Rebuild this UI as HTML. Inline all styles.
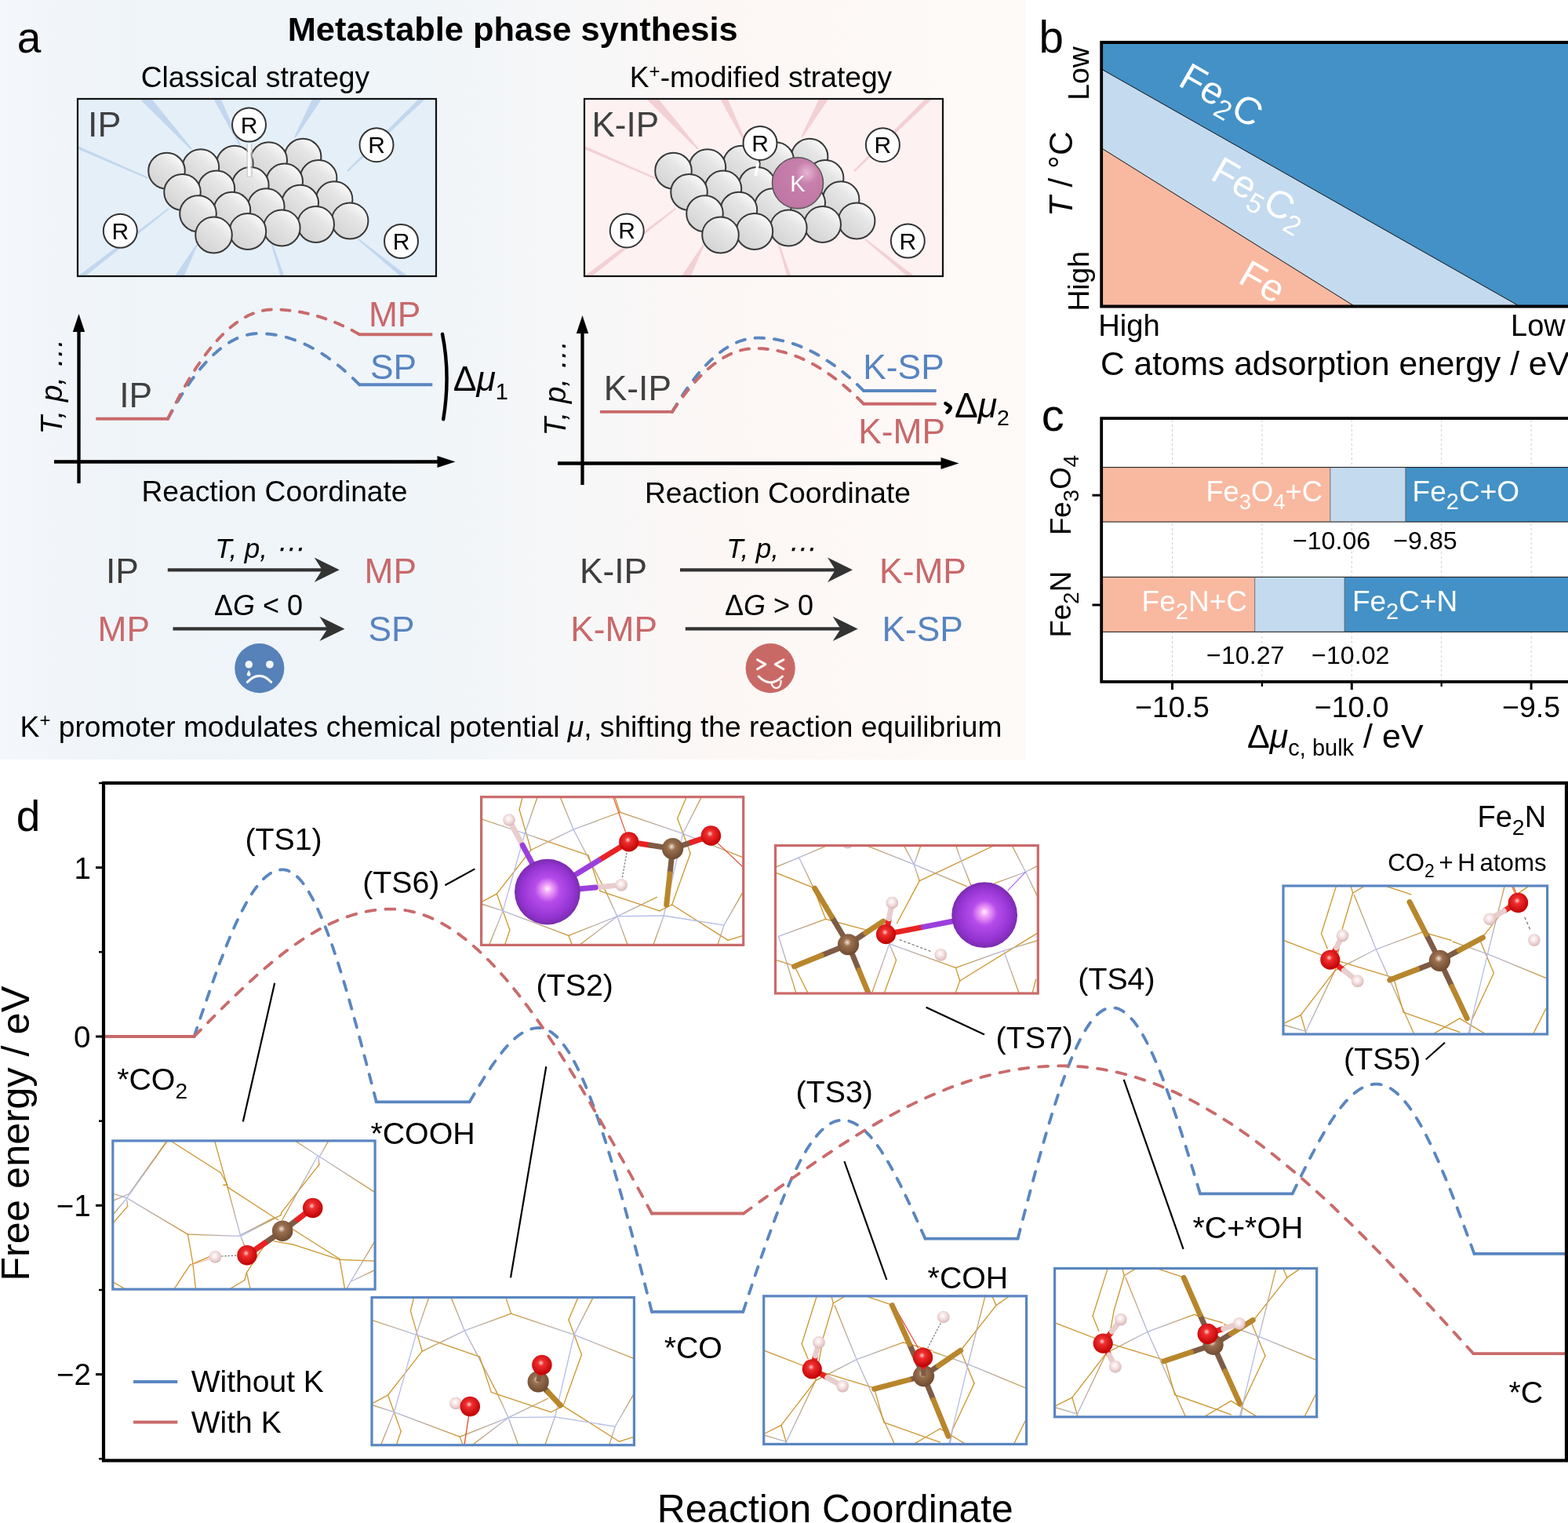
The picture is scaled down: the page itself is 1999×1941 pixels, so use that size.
<!DOCTYPE html>
<html><head><meta charset="utf-8"><title>Metastable phase synthesis</title>
<style>html,body{margin:0;padding:0;background:#fff;}svg{display:block;}</style></head>
<body>
<svg xmlns="http://www.w3.org/2000/svg" width="1999" height="1941" viewBox="0 0 1999 1941" font-family="'Liberation Sans', Arial, Helvetica, sans-serif">
<rect width="1999" height="1941" fill="#fff"/>

<defs>
<linearGradient id="bgA" x1="0" y1="0" x2="1" y2="0">
 <stop offset="0" stop-color="#f4f7fb"/>
 <stop offset="0.12" stop-color="#eff4f9"/>
 <stop offset="0.40" stop-color="#f0f5f9"/>
 <stop offset="0.55" stop-color="#f6f7f8"/>
 <stop offset="0.70" stop-color="#fcf7f5"/>
 <stop offset="1" stop-color="#fefaf8"/>
</linearGradient>
<linearGradient id="sph" x1="0.85" y1="0.1" x2="0.2" y2="0.9">
 <stop offset="0" stop-color="#fbfbfb"/>
 <stop offset="0.35" stop-color="#e6e6e6"/>
 <stop offset="1" stop-color="#d4d4d4"/>
</linearGradient>
<radialGradient id="ksph" cx="0.68" cy="0.3" r="0.75">
 <stop offset="0" stop-color="#e6b5d3"/>
 <stop offset="0.3" stop-color="#c77fab"/>
 <stop offset="1" stop-color="#bf76a5"/>
</radialGradient>
<radialGradient id="gO" cx="0.45" cy="0.4" r="0.6">
 <stop offset="0" stop-color="#ffd0d0"/>
 <stop offset="0.25" stop-color="#f03030"/>
 <stop offset="1" stop-color="#c00000"/>
</radialGradient>
<radialGradient id="gC" cx="0.45" cy="0.4" r="0.6">
 <stop offset="0" stop-color="#f4e6d8"/>
 <stop offset="0.3" stop-color="#9a7050"/>
 <stop offset="1" stop-color="#6e4a30"/>
</radialGradient>
<radialGradient id="gH" cx="0.45" cy="0.4" r="0.6">
 <stop offset="0" stop-color="#ffffff"/>
 <stop offset="0.5" stop-color="#f3dede"/>
 <stop offset="1" stop-color="#d8b8b8"/>
</radialGradient>
<radialGradient id="gK" cx="0.5" cy="0.5" r="0.5" fx="0.5" fy="0.45">
 <stop offset="0" stop-color="#fff2ff"/>
 <stop offset="0.12" stop-color="#f4a8fa"/>
 <stop offset="0.38" stop-color="#b64cea"/>
 <stop offset="0.8" stop-color="#9434d2"/>
 <stop offset="1" stop-color="#7a2cae"/>
</radialGradient>
<clipPath id="clipIP"><rect x="99" y="126" width="457" height="226"/></clipPath>
<clipPath id="clipKIP"><rect x="745" y="126" width="457" height="226"/></clipPath>
<clipPath id="clipB"><rect x="1404" y="54" width="600" height="337"/></clipPath>
</defs>

<rect x="0" y="0" width="1307.5" height="968" fill="url(#bgA)"/>
<text x="21.7" y="66.5" font-size="55" fill="#000">a</text>
<text x="366.7" y="51.9" font-size="43.4" fill="#000" font-weight="bold">Metastable phase synthesis</text>
<text x="179.7" y="111.3" font-size="37.2" fill="#000">Classical strategy</text>
<text x="802.8" y="111.3" font-size="37.2">K<tspan dy="-12" font-size="24">+</tspan><tspan dy="12">-modified strategy</tspan></text>
<g>
<rect x="99" y="126" width="457" height="226" fill="#e5eff8"/>
<g clip-path="url(#clipIP)" fill="#c2d7ef">
<polygon points="178.2,126.3 187.1,118.3 244.7,189.3 243.3,190.7"/>
<polygon points="270.8,123.5 278.8,119.5 306.9,184.6 305.1,185.4"/>
<polygon points="401.7,118.9 411.3,124.4 376.9,175.5 375.1,174.5"/>
<polygon points="539.5,120.4 543.7,124.7 443.7,218.7 442.3,217.3"/>
<polygon points="93.6,187.8 95.2,184.2 189.4,226.1 188.6,227.9"/>
<polygon points="101.9,357.4 98.2,352.7 214.4,265.2 215.6,266.8"/>
<polygon points="231.4,359.0 221.8,353.7 250.1,311.5 251.9,312.5"/>
<polygon points="363.9,356.0 359.2,357.5 346.0,312.3 348.0,311.7"/>
<polygon points="520.8,352.8 517.0,357.5 456.4,305.8 457.6,304.2"/>
</g>
<rect x="99" y="126" width="457" height="226" fill="none" stroke="#111" stroke-width="2.2"/>
<ellipse cx="386.1" cy="199.8" rx="23.3" ry="23" fill="url(#sph)" stroke="#383838" stroke-width="2"/>
<ellipse cx="342.7" cy="204.3" rx="23.3" ry="23" fill="url(#sph)" stroke="#383838" stroke-width="2"/>
<ellipse cx="299.3" cy="208.8" rx="23.3" ry="23" fill="url(#sph)" stroke="#383838" stroke-width="2"/>
<ellipse cx="255.9" cy="213.3" rx="23.3" ry="23" fill="url(#sph)" stroke="#383838" stroke-width="2"/>
<ellipse cx="212.5" cy="217.8" rx="23.3" ry="23" fill="url(#sph)" stroke="#383838" stroke-width="2"/>
<ellipse cx="406.1" cy="227.0" rx="23.3" ry="23" fill="url(#sph)" stroke="#383838" stroke-width="2"/>
<ellipse cx="362.7" cy="231.5" rx="23.3" ry="23" fill="url(#sph)" stroke="#383838" stroke-width="2"/>
<ellipse cx="319.3" cy="236.0" rx="23.3" ry="23" fill="url(#sph)" stroke="#383838" stroke-width="2"/>
<ellipse cx="275.9" cy="240.5" rx="23.3" ry="23" fill="url(#sph)" stroke="#383838" stroke-width="2"/>
<ellipse cx="232.5" cy="245.0" rx="23.3" ry="23" fill="url(#sph)" stroke="#383838" stroke-width="2"/>
<ellipse cx="426.1" cy="254.2" rx="23.3" ry="23" fill="url(#sph)" stroke="#383838" stroke-width="2"/>
<ellipse cx="382.7" cy="258.7" rx="23.3" ry="23" fill="url(#sph)" stroke="#383838" stroke-width="2"/>
<ellipse cx="339.3" cy="263.2" rx="23.3" ry="23" fill="url(#sph)" stroke="#383838" stroke-width="2"/>
<ellipse cx="295.9" cy="267.7" rx="23.3" ry="23" fill="url(#sph)" stroke="#383838" stroke-width="2"/>
<ellipse cx="252.5" cy="272.2" rx="23.3" ry="23" fill="url(#sph)" stroke="#383838" stroke-width="2"/>
<ellipse cx="446.1" cy="281.4" rx="23.3" ry="23" fill="url(#sph)" stroke="#383838" stroke-width="2"/>
<ellipse cx="402.7" cy="285.9" rx="23.3" ry="23" fill="url(#sph)" stroke="#383838" stroke-width="2"/>
<ellipse cx="359.3" cy="290.4" rx="23.3" ry="23" fill="url(#sph)" stroke="#383838" stroke-width="2"/>
<ellipse cx="315.9" cy="294.9" rx="23.3" ry="23" fill="url(#sph)" stroke="#383838" stroke-width="2"/>
<ellipse cx="272.5" cy="299.4" rx="23.3" ry="23" fill="url(#sph)" stroke="#383838" stroke-width="2"/>
<text x="112.1" y="174.0" font-size="44.8" fill="#3f3f3f">IP</text>
</g>
<g>
<rect x="745" y="126" width="457" height="226" fill="#fdf1f2"/>
<g clip-path="url(#clipKIP)" fill="#f3d0d4">
<polygon points="824.2,126.3 833.1,118.3 890.7,189.3 889.3,190.7"/>
<polygon points="916.8,123.5 924.8,119.5 952.9,184.6 951.1,185.4"/>
<polygon points="1047.7,118.9 1057.3,124.4 1022.9,175.5 1021.1,174.5"/>
<polygon points="1185.5,120.4 1189.7,124.7 1089.7,218.7 1088.3,217.3"/>
<polygon points="739.6,187.8 741.2,184.2 835.4,226.1 834.6,227.9"/>
<polygon points="747.9,357.4 744.2,352.7 860.4,265.2 861.6,266.8"/>
<polygon points="877.4,359.0 867.8,353.7 896.1,311.5 897.9,312.5"/>
<polygon points="1009.9,356.0 1005.2,357.5 992.0,312.3 994.0,311.7"/>
<polygon points="1166.8,352.8 1163.0,357.5 1102.4,305.8 1103.6,304.2"/>
</g>
<rect x="745" y="126" width="457" height="226" fill="none" stroke="#111" stroke-width="2.2"/>
<ellipse cx="1032.1" cy="199.8" rx="23.3" ry="23" fill="url(#sph)" stroke="#383838" stroke-width="2"/>
<ellipse cx="988.7" cy="204.3" rx="23.3" ry="23" fill="url(#sph)" stroke="#383838" stroke-width="2"/>
<ellipse cx="945.3" cy="208.8" rx="23.3" ry="23" fill="url(#sph)" stroke="#383838" stroke-width="2"/>
<ellipse cx="901.9" cy="213.3" rx="23.3" ry="23" fill="url(#sph)" stroke="#383838" stroke-width="2"/>
<ellipse cx="858.5" cy="217.8" rx="23.3" ry="23" fill="url(#sph)" stroke="#383838" stroke-width="2"/>
<ellipse cx="1052.1" cy="227.0" rx="23.3" ry="23" fill="url(#sph)" stroke="#383838" stroke-width="2"/>
<ellipse cx="1008.7" cy="231.5" rx="23.3" ry="23" fill="url(#sph)" stroke="#383838" stroke-width="2"/>
<ellipse cx="965.3" cy="236.0" rx="23.3" ry="23" fill="url(#sph)" stroke="#383838" stroke-width="2"/>
<ellipse cx="921.9" cy="240.5" rx="23.3" ry="23" fill="url(#sph)" stroke="#383838" stroke-width="2"/>
<ellipse cx="878.5" cy="245.0" rx="23.3" ry="23" fill="url(#sph)" stroke="#383838" stroke-width="2"/>
<ellipse cx="1072.1" cy="254.2" rx="23.3" ry="23" fill="url(#sph)" stroke="#383838" stroke-width="2"/>
<ellipse cx="1028.7" cy="258.7" rx="23.3" ry="23" fill="url(#sph)" stroke="#383838" stroke-width="2"/>
<ellipse cx="985.3" cy="263.2" rx="23.3" ry="23" fill="url(#sph)" stroke="#383838" stroke-width="2"/>
<ellipse cx="941.9" cy="267.7" rx="23.3" ry="23" fill="url(#sph)" stroke="#383838" stroke-width="2"/>
<ellipse cx="898.5" cy="272.2" rx="23.3" ry="23" fill="url(#sph)" stroke="#383838" stroke-width="2"/>
<ellipse cx="1092.1" cy="281.4" rx="23.3" ry="23" fill="url(#sph)" stroke="#383838" stroke-width="2"/>
<ellipse cx="1048.7" cy="285.9" rx="23.3" ry="23" fill="url(#sph)" stroke="#383838" stroke-width="2"/>
<ellipse cx="1005.3" cy="290.4" rx="23.3" ry="23" fill="url(#sph)" stroke="#383838" stroke-width="2"/>
<ellipse cx="961.9" cy="294.9" rx="23.3" ry="23" fill="url(#sph)" stroke="#383838" stroke-width="2"/>
<ellipse cx="918.5" cy="299.4" rx="23.3" ry="23" fill="url(#sph)" stroke="#383838" stroke-width="2"/>
<text x="754.5" y="174.0" font-size="44" fill="#3f3f3f">K-IP</text>
</g>
<line x1="318" y1="183" x2="318" y2="226" stroke="#c8c8c8" stroke-width="8" opacity="0.6"/>
<line x1="317.8" y1="183" x2="317.8" y2="224.5" stroke="#fff" stroke-width="3.6"/>
<circle cx="317.5" cy="159" r="21.5" fill="#fff" stroke="#333" stroke-width="2"/>
<text x="317.5" y="169.5" font-size="30" fill="#000" text-anchor="middle">R</text>
<circle cx="480" cy="184.7" r="21.5" fill="#fff" stroke="#333" stroke-width="2"/>
<text x="480.0" y="195.2" font-size="30" fill="#000" text-anchor="middle">R</text>
<circle cx="153.3" cy="294.3" r="21.5" fill="#fff" stroke="#333" stroke-width="2"/>
<text x="153.3" y="304.8" font-size="30" fill="#000" text-anchor="middle">R</text>
<circle cx="511.5" cy="307.5" r="21.5" fill="#fff" stroke="#333" stroke-width="2"/>
<text x="511.5" y="318.0" font-size="30" fill="#000" text-anchor="middle">R</text>
<circle cx="1017" cy="233.2" r="32.5" fill="url(#ksph)" stroke="#555" stroke-width="1.5"/>
<text x="1017.0" y="243.5" font-size="29" fill="#fff" text-anchor="middle">K</text>
<line x1="966.6" y1="207.5" x2="963" y2="224.3" stroke="#fff" stroke-width="3.5"/>
<circle cx="969" cy="182.4" r="21.5" fill="#fff" stroke="#333" stroke-width="2"/>
<text x="969.0" y="192.9" font-size="30" fill="#000" text-anchor="middle">R</text>
<circle cx="1125.4" cy="184.7" r="21.5" fill="#fff" stroke="#333" stroke-width="2"/>
<text x="1125.4" y="195.2" font-size="30" fill="#000" text-anchor="middle">R</text>
<circle cx="799.2" cy="293.9" r="21.5" fill="#fff" stroke="#333" stroke-width="2"/>
<text x="799.2" y="304.4" font-size="30" fill="#000" text-anchor="middle">R</text>
<circle cx="1157.3" cy="307" r="21.5" fill="#fff" stroke="#333" stroke-width="2"/>
<text x="1157.3" y="317.5" font-size="30" fill="#000" text-anchor="middle">R</text>
<line x1="100.5" y1="420" x2="100.5" y2="616" stroke="#000" stroke-width="4.3"/>
<polygon points="100.5,400 92.8,423 108.2,423" fill="#000"/>
<line x1="69" y1="588.5" x2="560.5" y2="588.5" stroke="#000" stroke-width="4.3"/>
<polygon points="580.5,588.5 557.5,581.0 557.5,596.0" fill="#000"/>
<g fill="none" stroke-width="3.9">
<polyline points="122.3,533.8 214,533.8" stroke="#c96a6a"/>
<polyline points="214.0,533.8 215.9,530.2 217.9,526.7 219.8,523.2 221.7,519.8 223.7,516.4 225.6,513.1 227.5,509.9 229.5,506.7 231.4,503.6 233.3,500.6 235.3,497.6 237.2,494.6 239.1,491.8 241.1,489.0 243.0,486.2 244.9,483.5 246.9,480.9 248.8,478.3 250.7,475.8 252.7,473.4 254.6,471.0 256.5,468.6 258.5,466.4 260.4,464.2 262.3,462.0 264.3,459.9 266.2,457.9 268.1,455.9 270.1,454.0 272.0,452.2 273.9,450.4 275.9,448.7 277.8,447.0 279.7,445.4 281.7,443.9 283.6,442.4 285.5,441.0 287.5,439.6 289.4,438.3 291.3,437.1 293.3,435.9 295.2,434.8 297.1,433.7 299.1,432.7 301.0,431.8 302.9,430.9 304.9,430.1 306.8,429.4 308.7,428.7 310.7,428.0 312.6,427.4 314.5,426.9 316.5,426.5 318.4,426.1 320.3,425.8 322.3,425.5 324.2,425.3 326.1,425.1 328.1,425.0 330.0,425.0 332.1,425.0 334.3,425.1 336.4,425.2 338.5,425.3 340.7,425.5 342.8,425.7 345.0,425.9 347.1,426.2 349.2,426.5 351.4,426.8 353.5,427.2 355.6,427.6 357.8,428.1 359.9,428.6 362.1,429.1 364.2,429.6 366.3,430.2 368.5,430.9 370.6,431.5 372.7,432.3 374.9,433.0 377.0,433.8 379.1,434.6 381.3,435.4 383.4,436.3 385.6,437.3 387.7,438.2 389.8,439.2 392.0,440.3 394.1,441.3 396.2,442.4 398.4,443.6 400.5,444.8 402.6,446.0 404.8,447.2 406.9,448.5 409.1,449.8 411.2,451.2 413.3,452.6 415.5,454.0 417.6,455.5 419.7,457.0 421.9,458.5 424.0,460.1 426.1,461.7 428.3,463.4 430.4,465.1 432.6,466.8 434.7,468.6 436.8,470.3 439.0,472.2 441.1,474.0 443.2,476.0 445.4,477.9 447.5,479.9 449.7,481.9 451.8,483.9 453.9,486.0 456.1,488.1 458.2,490.3" fill="none" stroke="#5a86c0" stroke-width="3.9" stroke-dasharray="11.82 13.36" stroke-linecap="round" stroke-linejoin="round"/>
<polyline points="214.0,533.8 216.2,529.2 218.5,524.7 220.7,520.2 222.9,515.8 225.2,511.6 227.4,507.3 229.6,503.2 231.9,499.1 234.1,495.1 236.3,491.2 238.6,487.4 240.8,483.7 243.0,480.0 245.3,476.4 247.5,472.9 249.7,469.4 252.0,466.0 254.2,462.8 256.4,459.5 258.7,456.4 260.9,453.4 263.1,450.4 265.4,447.5 267.6,444.6 269.8,441.9 272.1,439.2 274.3,436.6 276.5,434.1 278.8,431.7 281.0,429.3 283.2,427.0 285.5,424.8 287.7,422.7 289.9,420.7 292.2,418.7 294.4,416.8 296.6,415.0 298.9,413.2 301.1,411.6 303.3,410.0 305.6,408.5 307.8,407.0 310.0,405.7 312.3,404.4 314.5,403.2 316.7,402.1 319.0,401.0 321.2,400.1 323.4,399.2 325.7,398.4 327.9,397.6 330.1,397.0 332.4,396.4 334.6,395.9 336.8,395.5 339.1,395.1 341.3,394.8 343.5,394.7 345.8,394.5 348.0,394.5 349.8,394.5 351.7,394.5 353.5,394.6 355.3,394.6 357.2,394.7 359.0,394.8 360.9,394.9 362.7,395.1 364.5,395.2 366.4,395.4 368.2,395.6 370.0,395.8 371.9,396.0 373.7,396.2 375.6,396.5 377.4,396.8 379.2,397.0 381.1,397.4 382.9,397.7 384.7,398.0 386.6,398.4 388.4,398.8 390.2,399.2 392.1,399.6 393.9,400.0 395.8,400.5 397.6,400.9 399.4,401.4 401.3,401.9 403.1,402.4 404.9,403.0 406.8,403.5 408.6,404.1 410.4,404.7 412.3,405.3 414.1,405.9 416.0,406.6 417.8,407.2 419.6,407.9 421.5,408.6 423.3,409.3 425.1,410.0 427.0,410.8 428.8,411.5 430.6,412.3 432.5,413.1 434.3,414.0 436.2,414.8 438.0,415.6 439.8,416.5 441.7,417.4 443.5,418.3 445.3,419.2 447.2,420.2 449.0,421.1 450.9,422.1 452.7,423.1 454.5,424.1 456.4,425.2 458.2,426.2" fill="none" stroke="#c96a6a" stroke-width="3.9" stroke-dasharray="11.09 12.54" stroke-linecap="round" stroke-linejoin="round"/>
<polyline points="458.2,426.2 551.3,426.2" stroke="#c96a6a"/>
<polyline points="458.2,490.3 551.3,490.3" stroke="#5a86c0"/>
</g>
<path d="M564,425.8 Q574.5,478 565.2,534.4" fill="none" stroke="#000" stroke-width="4.4" stroke-linecap="round"/>
<text x="152.3" y="519.3" font-size="44.3" fill="#404040">IP</text>
<text x="469.9" y="415.9" font-size="44.3" fill="#c8686a">MP</text>
<text x="472.0" y="482.6" font-size="44.3" fill="#5784c0">SP</text>
<text x="577.7" y="498.4" font-size="44.5">Δ<tspan font-style="italic">μ</tspan><tspan font-size="29" dy="11">1</tspan></text>
<text transform="translate(79,553.5) rotate(-90)" font-size="38.5" font-style="italic">T, p, …</text>
<text x="180.5" y="639.4" font-size="37.2" fill="#000">Reaction Coordinate</text>
<line x1="742.5" y1="422" x2="742.5" y2="618" stroke="#000" stroke-width="4.3"/>
<polygon points="742.5,402 734.8,425 750.2,425" fill="#000"/>
<line x1="711" y1="590.5" x2="1202.5" y2="590.5" stroke="#000" stroke-width="4.3"/>
<polygon points="1222.5,590.5 1199.5,583.0 1199.5,598.0" fill="#000"/>
<g fill="none" stroke-width="3.9">
<polyline points="765,524.9 857,524.9" stroke="#c96a6a"/>
<polyline points="857.0,524.9 858.8,521.8 860.6,518.7 862.5,515.7 864.3,512.7 866.1,509.8 867.9,507.0 869.8,504.2 871.6,501.4 873.4,498.7 875.2,496.1 877.1,493.5 878.9,491.0 880.7,488.5 882.5,486.0 884.4,483.6 886.2,481.3 888.0,479.0 889.8,476.8 891.6,474.6 893.5,472.5 895.3,470.4 897.1,468.4 898.9,466.5 900.8,464.5 902.6,462.7 904.4,460.9 906.2,459.1 908.1,457.4 909.9,455.8 911.7,454.2 913.5,452.6 915.3,451.1 917.2,449.7 919.0,448.3 920.8,447.0 922.6,445.7 924.5,444.5 926.3,443.3 928.1,442.2 929.9,441.1 931.8,440.1 933.6,439.1 935.4,438.2 937.2,437.3 939.0,436.5 940.9,435.7 942.7,435.0 944.5,434.4 946.3,433.8 948.2,433.2 950.0,432.7 951.8,432.3 953.6,431.9 955.5,431.5 957.3,431.3 959.1,431.0 960.9,430.8 962.8,430.7 964.6,430.6 966.4,430.6 968.6,430.6 970.9,430.7 973.1,430.8 975.4,430.9 977.6,431.1 979.9,431.3 982.1,431.5 984.3,431.8 986.6,432.1 988.8,432.5 991.1,432.9 993.3,433.3 995.6,433.8 997.8,434.3 1000.0,434.8 1002.3,435.4 1004.5,436.0 1006.8,436.7 1009.0,437.4 1011.3,438.1 1013.5,438.9 1015.8,439.7 1018.0,440.5 1020.2,441.4 1022.5,442.3 1024.7,443.3 1027.0,444.2 1029.2,445.3 1031.5,446.3 1033.7,447.5 1035.9,448.6 1038.2,449.8 1040.4,451.0 1042.7,452.2 1044.9,453.5 1047.2,454.9 1049.4,456.2 1051.6,457.6 1053.9,459.1 1056.1,460.6 1058.4,462.1 1060.6,463.6 1062.9,465.2 1065.1,466.8 1067.3,468.5 1069.6,470.2 1071.8,472.0 1074.1,473.7 1076.3,475.6 1078.6,477.4 1080.8,479.3 1083.1,481.2 1085.3,483.2 1087.5,485.2 1089.8,487.2 1092.0,489.3 1094.3,491.4 1096.5,493.6 1098.8,495.8 1101.0,498.0" fill="none" stroke="#5a86c0" stroke-width="3.9" stroke-dasharray="11.49 12.99" stroke-linecap="round" stroke-linejoin="round"/>
<polyline points="857.0,524.9 858.8,522.2 860.5,519.6 862.3,517.0 864.1,514.5 865.8,512.0 867.6,509.5 869.4,507.1 871.1,504.8 872.9,502.5 874.7,500.2 876.4,498.0 878.2,495.8 880.0,493.6 881.7,491.6 883.5,489.5 885.3,487.5 887.0,485.6 888.8,483.6 890.6,481.8 892.3,480.0 894.1,478.2 895.9,476.4 897.6,474.8 899.4,473.1 901.2,471.5 902.9,470.0 904.7,468.5 906.5,467.0 908.2,465.6 910.0,464.2 911.8,462.9 913.5,461.6 915.3,460.4 917.1,459.2 918.8,458.0 920.6,456.9 922.4,455.9 924.1,454.9 925.9,453.9 927.7,453.0 929.4,452.1 931.2,451.3 933.0,450.5 934.7,449.8 936.5,449.1 938.3,448.4 940.0,447.8 941.8,447.2 943.6,446.7 945.3,446.2 947.1,445.8 948.9,445.4 950.6,445.1 952.4,444.8 954.2,444.6 955.9,444.4 957.7,444.2 959.5,444.1 961.2,444.0 963.0,444.0 965.3,444.0 967.6,444.1 969.9,444.2 972.2,444.3 974.5,444.5 976.8,444.7 979.1,445.0 981.4,445.3 983.7,445.6 986.0,446.0 988.3,446.4 990.6,446.8 992.9,447.3 995.2,447.9 997.5,448.4 999.8,449.0 1002.1,449.7 1004.4,450.4 1006.7,451.1 1009.0,451.9 1011.3,452.7 1013.6,453.5 1015.9,454.4 1018.2,455.3 1020.5,456.3 1022.8,457.3 1025.1,458.3 1027.4,459.4 1029.7,460.5 1032.0,461.7 1034.3,462.9 1036.6,464.1 1038.9,465.4 1041.2,466.7 1043.5,468.1 1045.8,469.5 1048.1,470.9 1050.4,472.4 1052.7,473.9 1055.0,475.5 1057.3,477.1 1059.6,478.7 1061.9,480.4 1064.2,482.1 1066.5,483.8 1068.8,485.6 1071.1,487.4 1073.4,489.3 1075.7,491.2 1078.0,493.2 1080.3,495.2 1082.6,497.2 1084.9,499.2 1087.2,501.3 1089.5,503.5 1091.8,505.7 1094.1,507.9 1096.4,510.2 1098.7,512.5 1101.0,514.8" fill="none" stroke="#c96a6a" stroke-width="3.9" stroke-dasharray="11.22 12.68" stroke-linecap="round" stroke-linejoin="round"/>
<polyline points="1101,498 1193.7,498" stroke="#5a86c0"/>
<polyline points="1101,514.8 1193.7,514.8" stroke="#c96a6a"/>
</g>
<text x="769.8" y="509.7" font-size="44.3" fill="#404040">K-IP</text>
<text x="1100.3" y="482.8" font-size="44.3" fill="#5784c0">K-SP</text>
<text x="1094.2" y="564.6" font-size="44.3" fill="#c8686a">K-MP</text>
<path d="M1205.5,514.2 Q1211.5,517.5 1211.8,519.5 Q1211,523 1207.5,525.5" fill="none" stroke="#000" stroke-width="4.6" stroke-linecap="round"/>
<text x="1216.9" y="531.6" font-size="44.5">Δ<tspan font-style="italic">μ</tspan><tspan font-size="28.5" dy="10">2</tspan></text>
<text transform="translate(721,555.5) rotate(-90)" font-size="38.5" font-style="italic">T, p, …</text>
<text x="822.0" y="641.0" font-size="37.2" fill="#000">Reaction Coordinate</text>
<line x1="213.8" y1="726.3" x2="420.7" y2="726.3" stroke="#333" stroke-width="4.2"/>
<path d="M432.7,726.3 L400.7,710.5999999999999 L410.7,726.3 L400.7,742.0 Z" fill="#333"/>
<line x1="220.5" y1="801.4" x2="427.4" y2="801.4" stroke="#333" stroke-width="4.2"/>
<path d="M439.4,801.4 L407.4,785.6999999999999 L417.4,801.4 L407.4,817.1 Z" fill="#333"/>
<line x1="867" y1="726.3" x2="1075" y2="726.3" stroke="#333" stroke-width="4.2"/>
<path d="M1087,726.3 L1055,710.5999999999999 L1065,726.3 L1055,742.0 Z" fill="#333"/>
<line x1="873.8" y1="801.4" x2="1081.7" y2="801.4" stroke="#333" stroke-width="4.2"/>
<path d="M1093.7,801.4 L1061.7,785.6999999999999 L1071.7,801.4 L1061.7,817.1 Z" fill="#333"/>
<text x="135.0" y="742.5" font-size="44.3" fill="#3c3c3c">IP</text>
<text x="464.5" y="742.5" font-size="44.3" fill="#c8686a">MP</text>
<text x="124.5" y="817.2" font-size="44.3" fill="#c8686a">MP</text>
<text x="469.4" y="817.2" font-size="44.3" fill="#5784c0">SP</text>
<text x="739.0" y="742.5" font-size="44.3" fill="#3c3c3c">K-IP</text>
<text x="1121.1" y="742.5" font-size="44.3" fill="#c8686a">K-MP</text>
<text x="727.2" y="817.2" font-size="44.3" fill="#c8686a">K-MP</text>
<text x="1124.5" y="817.2" font-size="44.3" fill="#5784c0">K-SP</text>
<text x="330.0" y="710.5" font-size="35" fill="#000" text-anchor="middle" font-style="italic">T, p, ⋯</text>
<text x="982.0" y="710.5" font-size="35" fill="#000" text-anchor="middle" font-style="italic">T, p, ⋯</text>
<text x="329.5" y="783.9" font-size="36" text-anchor="middle">Δ<tspan font-style="italic">G</tspan> &lt; 0</text>
<text x="980.5" y="783.9" font-size="36" text-anchor="middle">Δ<tspan font-style="italic">G</tspan> &gt; 0</text>
<circle cx="330.8" cy="851.6" r="31.6" fill="#5681b9"/>
<circle cx="317.3" cy="846.8" r="4.8" fill="#f2f6fa"/><circle cx="343.9" cy="846.8" r="4.9" fill="#f2f6fa"/>
<path d="M317.1,854 L314.9,858.4 A2.45,2.45 0 1 0 319.4,858.4 Z" fill="#f2f6fa"/>
<path d="M315.3,869.3 Q330.8,853.5 345.7,869.3" fill="none" stroke="#f2f6fa" stroke-width="3.1" stroke-linecap="round"/>
<circle cx="982.2" cy="851.6" r="31.6" fill="#c96966"/>
<path d="M965.5,840.7 L975.9,846.6 L965.5,852.8 M998.9,840.7 L988.3,846.6 L998.9,852.8" fill="none" stroke="#fdf7f5" stroke-width="3" stroke-linecap="round" stroke-linejoin="round"/>
<path d="M967.1,862 Q982.3,877.5 997.5,862" fill="none" stroke="#fdf7f5" stroke-width="3" stroke-linecap="round"/>
<path d="M983.6,870.8 C985,879.5 996.5,879.5 995.6,867" fill="none" stroke="#fdf7f5" stroke-width="2.4"/>
<text x="25.6" y="938.8" font-size="37.2">K<tspan dy="-13" font-size="24">+</tspan><tspan dy="13"> promoter modulates chemical potential </tspan><tspan font-style="italic">μ</tspan>, shifting the reaction equilibrium</text>
<text x="1324.5" y="66.5" font-size="56.5" fill="#000">b</text>
<g clip-path="url(#clipB)">
<rect x="1403" y="53" width="600" height="340" fill="#4391c6"/>
<polygon points="1403,87.4 1938.4,391 1403,391" fill="#c4daef"/>
<polygon points="1403,188 1728,391 1403,391" fill="#f9b9a0"/>
<line x1="1403" y1="87.4" x2="1938.4" y2="391" stroke="#111" stroke-width="1"/>
<line x1="1403" y1="188" x2="1728" y2="391" stroke="#111" stroke-width="1"/>
</g>
<path d="M2005,54 L1404.2,54 L1404.2,390.5 L2005,390.5" fill="none" stroke="#000" stroke-width="3.8"/>
<text transform="translate(1500.3,108) rotate(30)" font-size="49" fill="#fff">Fe<tspan font-size="35" dy="10">2</tspan><tspan dy="-10">C</tspan></text>
<text transform="translate(1541.2,227.6) rotate(30)" font-size="49" fill="#fff">Fe<tspan font-size="35" dy="10">5</tspan><tspan dy="-10">C</tspan><tspan font-size="35" dy="10">2</tspan></text>
<text transform="translate(1576.5,359.2) rotate(30)" font-size="49" fill="#fff">Fe</text>
<text transform="translate(1388.2,127.8) rotate(-90)" font-size="37.3">Low</text>
<text transform="translate(1388.2,396.6) rotate(-90)" font-size="37.3">High</text>
<text transform="translate(1367,276) rotate(-90)" font-size="42.3"><tspan font-style="italic">T</tspan> / °C</text>
<text x="1400.3" y="428.0" font-size="38.2" fill="#000">High</text>
<text x="1995.6" y="428.0" font-size="37.9" fill="#000" text-anchor="end">Low</text>
<text x="1403.1" y="477.9" font-size="42.5" fill="#000">C atoms adsorption energy / eV</text>
<text x="1327.8" y="549.3" font-size="58" fill="#000">c</text>
<rect x="1405" y="533" width="600" height="336" fill="#fff"/>
<line x1="1494.5" y1="535" x2="1494.5" y2="867" stroke="#cfcfcf" stroke-width="1" stroke-dasharray="3 3"/>
<line x1="1608.9" y1="535" x2="1608.9" y2="867" stroke="#cfcfcf" stroke-width="1" stroke-dasharray="3 3"/>
<line x1="1723.3" y1="535" x2="1723.3" y2="867" stroke="#cfcfcf" stroke-width="1" stroke-dasharray="3 3"/>
<line x1="1837.7" y1="535" x2="1837.7" y2="867" stroke="#cfcfcf" stroke-width="1" stroke-dasharray="3 3"/>
<line x1="1952.1" y1="535" x2="1952.1" y2="867" stroke="#cfcfcf" stroke-width="1" stroke-dasharray="3 3"/>
<rect x="1405" y="595.6" width="290.8" height="69.5" fill="#f9b9a0"/>
<rect x="1695.8" y="595.6" width="96.1" height="69.5" fill="#c4daef"/>
<rect x="1791.9" y="595.6" width="213.1" height="69.5" fill="#4391c6"/>
<line x1="1405" y1="595.6" x2="2000" y2="595.6" stroke="#111" stroke-width="1"/>
<line x1="1405" y1="665.1" x2="2000" y2="665.1" stroke="#111" stroke-width="1"/>
<line x1="1695.8" y1="595.6" x2="1695.8" y2="665.1" stroke="#555" stroke-width="0.8"/>
<line x1="1791.9" y1="595.6" x2="1791.9" y2="665.1" stroke="#555" stroke-width="0.8"/>
<rect x="1405" y="735.4" width="194.7" height="69.89999999999998" fill="#f9b9a0"/>
<rect x="1599.7" y="735.4" width="114.4" height="69.89999999999998" fill="#c4daef"/>
<rect x="1714.1" y="735.4" width="290.9" height="69.89999999999998" fill="#4391c6"/>
<line x1="1405" y1="735.4" x2="2000" y2="735.4" stroke="#111" stroke-width="1"/>
<line x1="1405" y1="805.3" x2="2000" y2="805.3" stroke="#111" stroke-width="1"/>
<line x1="1599.7" y1="735.4" x2="1599.7" y2="805.3" stroke="#555" stroke-width="0.8"/>
<line x1="1714.1" y1="735.4" x2="1714.1" y2="805.3" stroke="#555" stroke-width="0.8"/>
<path d="M2005,533.2 L1404.2,533.2 L1404.2,868.8 L2005,868.8" fill="none" stroke="#000" stroke-width="3.8"/>
<line x1="1392.5" y1="631.2" x2="1405" y2="631.2" stroke="#000" stroke-width="3"/>
<line x1="1392.5" y1="771" x2="1405" y2="771" stroke="#000" stroke-width="3"/>
<line x1="1494.5" y1="869" x2="1494.5" y2="879" stroke="#000" stroke-width="3"/>
<line x1="1723.3" y1="869" x2="1723.3" y2="879" stroke="#000" stroke-width="3"/>
<line x1="1952.1" y1="869" x2="1952.1" y2="879" stroke="#000" stroke-width="3"/>
<line x1="1608.9" y1="869" x2="1608.9" y2="875" stroke="#000" stroke-width="2.2"/>
<line x1="1837.7" y1="869" x2="1837.7" y2="875" stroke="#000" stroke-width="2.2"/>
<text x="1494.5" y="913.7" font-size="37.5" fill="#000" text-anchor="middle">−10.5</text>
<text x="1723.3" y="913.7" font-size="37.5" fill="#000" text-anchor="middle">−10.0</text>
<text x="1952.1" y="913.7" font-size="37.5" fill="#000" text-anchor="middle">−9.5</text>
<text x="1686" y="639" font-size="36.3" fill="#fff" text-anchor="end">Fe<tspan font-size="27.5" dy="10">3</tspan><tspan dy="-10">O</tspan><tspan font-size="27.5" dy="10">4</tspan><tspan dy="-10">+C</tspan></text>
<text x="1800.6" y="639" font-size="37" fill="#fff">Fe<tspan font-size="29" dy="10">2</tspan><tspan dy="-10">C+O</tspan></text>
<text x="1590" y="778.9" font-size="37" fill="#fff" text-anchor="end">Fe<tspan font-size="29" dy="10">2</tspan><tspan dy="-10">N+C</tspan></text>
<text x="1723.9" y="778.9" font-size="37" fill="#fff">Fe<tspan font-size="29" dy="10">2</tspan><tspan dy="-10">C+N</tspan></text>
<text x="1647.9" y="700.4" font-size="32.2" fill="#000">−10.06</text>
<text x="1776.3" y="700.4" font-size="32.2" fill="#000">−9.85</text>
<text x="1538.1" y="846.0" font-size="32.2" fill="#000">−10.27</text>
<text x="1672.1" y="846.0" font-size="32.2" fill="#000">−10.02</text>
<text transform="translate(1364.5,682) rotate(-90)" font-size="36.5">Fe<tspan font-size="28" dy="10">3</tspan><tspan dy="-10">O</tspan><tspan font-size="28" dy="10">4</tspan></text>
<text transform="translate(1364.5,812.5) rotate(-90)" font-size="36.5">Fe<tspan font-size="28" dy="10">2</tspan><tspan dy="-10">N</tspan></text>
<text x="1590" y="953" font-size="43">Δ<tspan font-style="italic">μ</tspan><tspan font-size="29" dy="10">c, bulk</tspan><tspan dy="-10"> / eV</tspan></text>
<text x="20.7" y="1059.2" font-size="55" fill="#000">d</text>
<rect x="132" y="997" width="1862.7" height="865" fill="#fff" stroke="none"/>
<clipPath id="clTS1"><rect x="143.8" y="1453.9" width="334.3" height="189.2"/></clipPath>
<g clip-path="url(#clTS1)">
<rect x="143.8" y="1453.9" width="334.3" height="189.2" fill="#fff"/>
<g transform="translate(139.96,1450.06) scale(0.17449)">
<defs><linearGradient id="a1" gradientUnits="userSpaceOnUse" x1="140" y1="410" x2="0" y2="470"><stop offset="0" stop-color="#b4bce6"/><stop offset="0.5" stop-color="#bba891"/><stop offset="1" stop-color="#cc962f"/></linearGradient><linearGradient id="a2" gradientUnits="userSpaceOnUse" x1="140" y1="410" x2="420" y2="20"><stop offset="0" stop-color="#b4bce6"/><stop offset="0.5" stop-color="#bba891"/><stop offset="1" stop-color="#cc962f"/></linearGradient><linearGradient id="a3" gradientUnits="userSpaceOnUse" x1="125" y1="440" x2="0" y2="400"><stop offset="0" stop-color="#b4bce6"/><stop offset="0.5" stop-color="#bba891"/><stop offset="1" stop-color="#cc962f"/></linearGradient><linearGradient id="a4" gradientUnits="userSpaceOnUse" x1="125" y1="440" x2="415" y2="30"><stop offset="0" stop-color="#b4bce6"/><stop offset="0.5" stop-color="#bba891"/><stop offset="1" stop-color="#cc962f"/></linearGradient><linearGradient id="a5" gradientUnits="userSpaceOnUse" x1="125" y1="455" x2="130" y2="500"><stop offset="0" stop-color="#b4bce6"/><stop offset="0.5" stop-color="#bba891"/><stop offset="1" stop-color="#cc962f"/></linearGradient><linearGradient id="a6" gradientUnits="userSpaceOnUse" x1="125" y1="440" x2="0" y2="590"><stop offset="0" stop-color="#b4bce6"/><stop offset="0.5" stop-color="#bba891"/><stop offset="1" stop-color="#cc962f"/></linearGradient><linearGradient id="a7" gradientUnits="userSpaceOnUse" x1="125" y1="440" x2="570" y2="705"><stop offset="0" stop-color="#b4bce6"/><stop offset="0.5" stop-color="#bba891"/><stop offset="1" stop-color="#cc962f"/></linearGradient><linearGradient id="a8" gradientUnits="userSpaceOnUse" x1="940" y1="718" x2="570" y2="705"><stop offset="0" stop-color="#b4bce6"/><stop offset="0.5" stop-color="#bba891"/><stop offset="1" stop-color="#cc962f"/></linearGradient><linearGradient id="a9" gradientUnits="userSpaceOnUse" x1="940" y1="718" x2="1200" y2="585"><stop offset="0" stop-color="#b4bce6"/><stop offset="0.5" stop-color="#bba891"/><stop offset="1" stop-color="#cc962f"/></linearGradient><linearGradient id="a10" gradientUnits="userSpaceOnUse" x1="955" y1="715" x2="860" y2="360"><stop offset="0" stop-color="#b4bce6"/><stop offset="0.5" stop-color="#bba891"/><stop offset="1" stop-color="#cc962f"/></linearGradient><linearGradient id="a11" gradientUnits="userSpaceOnUse" x1="955" y1="715" x2="985" y2="790"><stop offset="0" stop-color="#b4bce6"/><stop offset="0.5" stop-color="#bba891"/><stop offset="1" stop-color="#cc962f"/></linearGradient><linearGradient id="a12" gradientUnits="userSpaceOnUse" x1="960" y1="715" x2="1250" y2="565"><stop offset="0" stop-color="#b4bce6"/><stop offset="0.5" stop-color="#bba891"/><stop offset="1" stop-color="#cc962f"/></linearGradient><linearGradient id="a13" gradientUnits="userSpaceOnUse" x1="1525" y1="150" x2="1530" y2="195"><stop offset="0" stop-color="#b4bce6"/><stop offset="0.5" stop-color="#bba891"/><stop offset="1" stop-color="#cc962f"/></linearGradient><linearGradient id="a14" gradientUnits="userSpaceOnUse" x1="1525" y1="150" x2="1600" y2="20"><stop offset="0" stop-color="#b4bce6"/><stop offset="0.5" stop-color="#bba891"/><stop offset="1" stop-color="#cc962f"/></linearGradient><linearGradient id="a15" gradientUnits="userSpaceOnUse" x1="1520" y1="130" x2="1260" y2="600"><stop offset="0" stop-color="#b4bce6"/><stop offset="0.5" stop-color="#bba891"/><stop offset="1" stop-color="#cc962f"/></linearGradient><linearGradient id="a16" gradientUnits="userSpaceOnUse" x1="1520" y1="130" x2="1350" y2="20"><stop offset="0" stop-color="#b4bce6"/><stop offset="0.5" stop-color="#bba891"/><stop offset="1" stop-color="#cc962f"/></linearGradient><linearGradient id="a17" gradientUnits="userSpaceOnUse" x1="1520" y1="130" x2="1940" y2="400"><stop offset="0" stop-color="#b4bce6"/><stop offset="0.5" stop-color="#bba891"/><stop offset="1" stop-color="#cc962f"/></linearGradient><linearGradient id="a18" gradientUnits="userSpaceOnUse" x1="1760" y1="1050" x2="1940" y2="750"><stop offset="0" stop-color="#b4bce6"/><stop offset="0.5" stop-color="#bba891"/><stop offset="1" stop-color="#cc962f"/></linearGradient><linearGradient id="a19" gradientUnits="userSpaceOnUse" x1="1760" y1="1050" x2="1720" y2="1120"><stop offset="0" stop-color="#b4bce6"/><stop offset="0.5" stop-color="#bba891"/><stop offset="1" stop-color="#cc962f"/></linearGradient><linearGradient id="a20" gradientUnits="userSpaceOnUse" x1="1760" y1="1050" x2="1940" y2="965"><stop offset="0" stop-color="#b4bce6"/><stop offset="0.5" stop-color="#bba891"/><stop offset="1" stop-color="#cc962f"/></linearGradient></defs><line x1="0" y1="470" x2="140" y2="410" stroke="url(#a1)" stroke-width="7.5" stroke-linecap="round"/><line x1="140" y1="410" x2="420" y2="20" stroke="url(#a2)" stroke-width="7.5" stroke-linecap="round"/><line x1="0" y1="400" x2="125" y2="440" stroke="url(#a3)" stroke-width="7.5" stroke-linecap="round"/><line x1="125" y1="440" x2="415" y2="30" stroke="url(#a4)" stroke-width="7.5" stroke-linecap="round"/><line x1="0" y1="650" x2="130" y2="500" stroke="#cc962f" stroke-width="7.5" stroke-linecap="round"/><line x1="130" y1="500" x2="125" y2="455" stroke="url(#a5)" stroke-width="7.5" stroke-linecap="round"/><line x1="0" y1="590" x2="125" y2="440" stroke="url(#a6)" stroke-width="7.5" stroke-linecap="round"/><line x1="125" y1="440" x2="570" y2="705" stroke="url(#a7)" stroke-width="7.5" stroke-linecap="round"/><line x1="570" y1="705" x2="940" y2="718" stroke="url(#a8)" stroke-width="7.5" stroke-linecap="round"/><line x1="940" y1="718" x2="1200" y2="585" stroke="url(#a9)" stroke-width="7.5" stroke-linecap="round"/><line x1="570" y1="705" x2="605" y2="905" stroke="#cc962f" stroke-width="7.5" stroke-linecap="round"/><line x1="605" y1="905" x2="630" y2="1120" stroke="#cc962f" stroke-width="7.5" stroke-linecap="round"/><line x1="460" y1="1120" x2="585" y2="930" stroke="#cc962f" stroke-width="7.5" stroke-linecap="round"/><line x1="585" y1="930" x2="770" y2="850" stroke="#cc962f" stroke-width="7.5" stroke-linecap="round"/><line x1="440" y1="20" x2="810" y2="255" stroke="#cc962f" stroke-width="7.5" stroke-linecap="round"/><line x1="810" y1="255" x2="860" y2="345" stroke="#cc962f" stroke-width="7.5" stroke-linecap="round"/><line x1="860" y1="345" x2="830" y2="345" stroke="#cc962f" stroke-width="7.5" stroke-linecap="round"/><line x1="860" y1="360" x2="1230" y2="600" stroke="#cc962f" stroke-width="7.5" stroke-linecap="round"/><line x1="765" y1="20" x2="860" y2="360" stroke="#cc962f" stroke-width="7.5" stroke-linecap="round"/><line x1="860" y1="360" x2="955" y2="715" stroke="url(#a10)" stroke-width="7.5" stroke-linecap="round"/><line x1="955" y1="715" x2="985" y2="790" stroke="url(#a11)" stroke-width="7.5" stroke-linecap="round"/><line x1="960" y1="715" x2="1250" y2="565" stroke="url(#a12)" stroke-width="7.5" stroke-linecap="round"/><line x1="1250" y1="565" x2="1255" y2="545" stroke="#cc962f" stroke-width="7.5" stroke-linecap="round"/><line x1="1255" y1="545" x2="1530" y2="195" stroke="#cc962f" stroke-width="7.5" stroke-linecap="round"/><line x1="1530" y1="195" x2="1525" y2="150" stroke="url(#a13)" stroke-width="7.5" stroke-linecap="round"/><line x1="1525" y1="150" x2="1600" y2="20" stroke="url(#a14)" stroke-width="7.5" stroke-linecap="round"/><line x1="1260" y1="600" x2="1520" y2="130" stroke="url(#a15)" stroke-width="7.5" stroke-linecap="round"/><line x1="1350" y1="20" x2="1520" y2="130" stroke="url(#a16)" stroke-width="7.5" stroke-linecap="round"/><line x1="1520" y1="130" x2="1940" y2="400" stroke="url(#a17)" stroke-width="7.5" stroke-linecap="round"/><line x1="1340" y1="670" x2="1680" y2="885" stroke="#cc962f" stroke-width="7.5" stroke-linecap="round"/><line x1="1200" y1="755" x2="1340" y2="780" stroke="#cc962f" stroke-width="7.5" stroke-linecap="round"/><line x1="1340" y1="780" x2="1680" y2="890" stroke="#cc962f" stroke-width="7.5" stroke-linecap="round"/><line x1="1680" y1="890" x2="1940" y2="900" stroke="#cc962f" stroke-width="7.5" stroke-linecap="round"/><line x1="1680" y1="890" x2="1720" y2="1120" stroke="#cc962f" stroke-width="7.5" stroke-linecap="round"/><line x1="1940" y1="750" x2="1760" y2="1050" stroke="url(#a18)" stroke-width="7.5" stroke-linecap="round"/><line x1="1760" y1="1050" x2="1720" y2="1120" stroke="url(#a19)" stroke-width="7.5" stroke-linecap="round"/><line x1="1760" y1="1050" x2="1940" y2="965" stroke="url(#a20)" stroke-width="7.5" stroke-linecap="round"/><line x1="850" y1="1120" x2="985" y2="1040" stroke="#cc962f" stroke-width="7.5" stroke-linecap="round"/><line x1="985" y1="1040" x2="1000" y2="985" stroke="#cc962f" stroke-width="7.5" stroke-linecap="round"/><line x1="1000" y1="985" x2="1030" y2="1120" stroke="#cc962f" stroke-width="7.5" stroke-linecap="round"/><line x1="1000" y1="985" x2="1130" y2="785" stroke="#cc962f" stroke-width="7.5" stroke-linecap="round"/><line x1="0" y1="1040" x2="140" y2="1120" stroke="#cc962f" stroke-width="7.5" stroke-linecap="round"/><line x1="590" y1="930" x2="730" y2="885" stroke="#f0b090" stroke-width="6"/><line x1="815" y1="865" x2="925" y2="860" stroke="#777" stroke-width="7" stroke-dasharray="14 10"/><line x1="1262" y1="680" x2="1132.5" y2="769.0" stroke="#7e5b45" stroke-width="42"/><line x1="1132.5" y1="769.0" x2="1003" y2="858" stroke="#e82222" stroke-width="42" stroke-linecap="round"/><line x1="1262" y1="680" x2="1372.5" y2="596.0" stroke="#7e5b45" stroke-width="42"/><line x1="1372.5" y1="596.0" x2="1483" y2="512" stroke="#e82222" stroke-width="42" stroke-linecap="round"/><circle cx="770" cy="870" r="45" fill="url(#gH)"/><circle cx="1003" cy="858" r="73" fill="url(#gO)"/><circle cx="1262" cy="680" r="76" fill="url(#gC)"/><circle cx="1483" cy="512" r="73" fill="url(#gO)"/>
</g></g>
<rect x="143.8" y="1453.9" width="334.3" height="189.2" fill="none" stroke="#5a86c0" stroke-width="3.2"/>
<clipPath id="clTS2"><rect x="474" y="1653.5" width="334.4" height="188.2"/></clipPath>
<g clip-path="url(#clTS2)">
<rect x="474" y="1653.5" width="334.4" height="188.2" fill="#fff"/>
<g transform="translate(470.16,1649.66) scale(0.17449)">
<defs><linearGradient id="b21" gradientUnits="userSpaceOnUse" x1="345" y1="295" x2="0" y2="180"><stop offset="0" stop-color="#b4bce6"/><stop offset="0.5" stop-color="#bba891"/><stop offset="1" stop-color="#cc962f"/></linearGradient><linearGradient id="b22" gradientUnits="userSpaceOnUse" x1="345" y1="295" x2="520" y2="355"><stop offset="0" stop-color="#b4bce6"/><stop offset="0.5" stop-color="#bba891"/><stop offset="1" stop-color="#cc962f"/></linearGradient><linearGradient id="b23" gradientUnits="userSpaceOnUse" x1="345" y1="295" x2="440" y2="20"><stop offset="0" stop-color="#b4bce6"/><stop offset="0.5" stop-color="#bba891"/><stop offset="1" stop-color="#cc962f"/></linearGradient><linearGradient id="b24" gradientUnits="userSpaceOnUse" x1="185" y1="860" x2="80" y2="1120"><stop offset="0" stop-color="#b4bce6"/><stop offset="0.5" stop-color="#bba891"/><stop offset="1" stop-color="#cc962f"/></linearGradient><linearGradient id="b25" gradientUnits="userSpaceOnUse" x1="700" y1="265" x2="390" y2="415"><stop offset="0" stop-color="#b4bce6"/><stop offset="0.5" stop-color="#bba891"/><stop offset="1" stop-color="#cc962f"/></linearGradient><linearGradient id="b26" gradientUnits="userSpaceOnUse" x1="700" y1="265" x2="1040" y2="140"><stop offset="0" stop-color="#b4bce6"/><stop offset="0.5" stop-color="#bba891"/><stop offset="1" stop-color="#cc962f"/></linearGradient><linearGradient id="b27" gradientUnits="userSpaceOnUse" x1="700" y1="265" x2="600" y2="20"><stop offset="0" stop-color="#b4bce6"/><stop offset="0.5" stop-color="#bba891"/><stop offset="1" stop-color="#cc962f"/></linearGradient><linearGradient id="b28" gradientUnits="userSpaceOnUse" x1="700" y1="265" x2="935" y2="715"><stop offset="0" stop-color="#b4bce6"/><stop offset="0.5" stop-color="#bba891"/><stop offset="1" stop-color="#cc962f"/></linearGradient><linearGradient id="b29" gradientUnits="userSpaceOnUse" x1="1020" y1="900" x2="935" y2="715"><stop offset="0" stop-color="#b4bce6"/><stop offset="0.5" stop-color="#bba891"/><stop offset="1" stop-color="#cc962f"/></linearGradient><linearGradient id="b30" gradientUnits="userSpaceOnUse" x1="1020" y1="900" x2="1100" y2="1120"><stop offset="0" stop-color="#b4bce6"/><stop offset="0.5" stop-color="#bba891"/><stop offset="1" stop-color="#cc962f"/></linearGradient><linearGradient id="b31" gradientUnits="userSpaceOnUse" x1="1500" y1="295" x2="1040" y2="140"><stop offset="0" stop-color="#b4bce6"/><stop offset="0.5" stop-color="#bba891"/><stop offset="1" stop-color="#cc962f"/></linearGradient><linearGradient id="b32" gradientUnits="userSpaceOnUse" x1="1500" y1="295" x2="1940" y2="470"><stop offset="0" stop-color="#b4bce6"/><stop offset="0.5" stop-color="#bba891"/><stop offset="1" stop-color="#cc962f"/></linearGradient><linearGradient id="b33" gradientUnits="userSpaceOnUse" x1="1500" y1="295" x2="1640" y2="20"><stop offset="0" stop-color="#b4bce6"/><stop offset="0.5" stop-color="#bba891"/><stop offset="1" stop-color="#cc962f"/></linearGradient><linearGradient id="b34" gradientUnits="userSpaceOnUse" x1="1360" y1="895" x2="1280" y2="1120"><stop offset="0" stop-color="#b4bce6"/><stop offset="0.5" stop-color="#bba891"/><stop offset="1" stop-color="#cc962f"/></linearGradient><linearGradient id="b35" gradientUnits="userSpaceOnUse" x1="185" y1="860" x2="0" y2="800"><stop offset="0" stop-color="#b4bce6"/><stop offset="0.5" stop-color="#bba891"/><stop offset="1" stop-color="#cc962f"/></linearGradient><linearGradient id="b36" gradientUnits="userSpaceOnUse" x1="185" y1="860" x2="665" y2="1040"><stop offset="0" stop-color="#b4bce6"/><stop offset="0.5" stop-color="#bba891"/><stop offset="1" stop-color="#cc962f"/></linearGradient><linearGradient id="b37" gradientUnits="userSpaceOnUse" x1="1020" y1="900" x2="665" y2="1040"><stop offset="0" stop-color="#b4bce6"/><stop offset="0.5" stop-color="#bba891"/><stop offset="1" stop-color="#cc962f"/></linearGradient><linearGradient id="b38" gradientUnits="userSpaceOnUse" x1="1020" y1="900" x2="730" y2="1120"><stop offset="0" stop-color="#b4bce6"/><stop offset="0.5" stop-color="#bba891"/><stop offset="1" stop-color="#cc962f"/></linearGradient><linearGradient id="b39" gradientUnits="userSpaceOnUse" x1="1020" y1="900" x2="1310" y2="760"><stop offset="0" stop-color="#b4bce6"/><stop offset="0.5" stop-color="#bba891"/><stop offset="1" stop-color="#cc962f"/></linearGradient><linearGradient id="b40" gradientUnits="userSpaceOnUse" x1="1800" y1="965" x2="1940" y2="720"><stop offset="0" stop-color="#b4bce6"/><stop offset="0.5" stop-color="#bba891"/><stop offset="1" stop-color="#cc962f"/></linearGradient><linearGradient id="b41" gradientUnits="userSpaceOnUse" x1="1800" y1="965" x2="1750" y2="1120"><stop offset="0" stop-color="#b4bce6"/><stop offset="0.5" stop-color="#bba891"/><stop offset="1" stop-color="#cc962f"/></linearGradient></defs><line x1="330" y1="20" x2="305" y2="120" stroke="#cc962f" stroke-width="7.5" stroke-linecap="round"/><line x1="305" y1="120" x2="390" y2="415" stroke="#cc962f" stroke-width="7.5" stroke-linecap="round"/><line x1="390" y1="415" x2="140" y2="735" stroke="#cc962f" stroke-width="7.5" stroke-linecap="round"/><line x1="140" y1="735" x2="0" y2="810" stroke="#cc962f" stroke-width="7.5" stroke-linecap="round"/><line x1="140" y1="735" x2="235" y2="1000" stroke="#cc962f" stroke-width="7.5" stroke-linecap="round"/><line x1="235" y1="1000" x2="195" y2="1120" stroke="#cc962f" stroke-width="7.5" stroke-linecap="round"/><line x1="0" y1="180" x2="345" y2="295" stroke="url(#b21)" stroke-width="7.5" stroke-linecap="round"/><line x1="345" y1="295" x2="520" y2="355" stroke="url(#b22)" stroke-width="7.5" stroke-linecap="round"/><line x1="520" y1="355" x2="810" y2="455" stroke="#cc962f" stroke-width="7.5" stroke-linecap="round"/><line x1="440" y1="20" x2="345" y2="295" stroke="url(#b23)" stroke-width="7.5" stroke-linecap="round"/><line x1="345" y1="295" x2="185" y2="860" stroke="#b4bce6" stroke-width="7.5" stroke-linecap="round"/><line x1="185" y1="860" x2="80" y2="1120" stroke="url(#b24)" stroke-width="7.5" stroke-linecap="round"/><line x1="390" y1="415" x2="700" y2="265" stroke="url(#b25)" stroke-width="7.5" stroke-linecap="round"/><line x1="700" y1="265" x2="1040" y2="140" stroke="url(#b26)" stroke-width="7.5" stroke-linecap="round"/><line x1="1040" y1="140" x2="1000" y2="20" stroke="#cc962f" stroke-width="7.5" stroke-linecap="round"/><line x1="600" y1="20" x2="700" y2="265" stroke="url(#b27)" stroke-width="7.5" stroke-linecap="round"/><line x1="700" y1="265" x2="935" y2="715" stroke="url(#b28)" stroke-width="7.5" stroke-linecap="round"/><line x1="935" y1="715" x2="1020" y2="900" stroke="url(#b29)" stroke-width="7.5" stroke-linecap="round"/><line x1="1020" y1="900" x2="1100" y2="1120" stroke="url(#b30)" stroke-width="7.5" stroke-linecap="round"/><line x1="1040" y1="140" x2="1500" y2="295" stroke="url(#b31)" stroke-width="7.5" stroke-linecap="round"/><line x1="1500" y1="295" x2="1940" y2="470" stroke="url(#b32)" stroke-width="7.5" stroke-linecap="round"/><line x1="1530" y1="20" x2="1460" y2="185" stroke="#cc962f" stroke-width="7.5" stroke-linecap="round"/><line x1="1460" y1="185" x2="1555" y2="440" stroke="#cc962f" stroke-width="7.5" stroke-linecap="round"/><line x1="1555" y1="440" x2="1420" y2="815" stroke="#cc962f" stroke-width="7.5" stroke-linecap="round"/><line x1="1640" y1="20" x2="1500" y2="295" stroke="url(#b33)" stroke-width="7.5" stroke-linecap="round"/><line x1="1500" y1="295" x2="1360" y2="895" stroke="#b4bce6" stroke-width="7.5" stroke-linecap="round"/><line x1="1360" y1="895" x2="1280" y2="1120" stroke="url(#b34)" stroke-width="7.5" stroke-linecap="round"/><line x1="810" y1="455" x2="895" y2="715" stroke="#cc962f" stroke-width="7.5" stroke-linecap="round"/><line x1="895" y1="715" x2="1330" y2="860" stroke="#cc962f" stroke-width="7.5" stroke-linecap="round"/><line x1="1330" y1="860" x2="1420" y2="815" stroke="#cc962f" stroke-width="7.5" stroke-linecap="round"/><line x1="1420" y1="815" x2="1830" y2="1075" stroke="#cc962f" stroke-width="7.5" stroke-linecap="round"/><line x1="1830" y1="1075" x2="1940" y2="1040" stroke="#cc962f" stroke-width="7.5" stroke-linecap="round"/><line x1="0" y1="800" x2="185" y2="860" stroke="url(#b35)" stroke-width="7.5" stroke-linecap="round"/><line x1="185" y1="860" x2="665" y2="1040" stroke="url(#b36)" stroke-width="7.5" stroke-linecap="round"/><line x1="665" y1="1040" x2="695" y2="1120" stroke="#cc962f" stroke-width="7.5" stroke-linecap="round"/><line x1="665" y1="1040" x2="1020" y2="900" stroke="url(#b37)" stroke-width="7.5" stroke-linecap="round"/><line x1="1020" y1="900" x2="1360" y2="895" stroke="#b4bce6" stroke-width="7.5" stroke-linecap="round"/><line x1="1360" y1="895" x2="1800" y2="965" stroke="#b4bce6" stroke-width="7.5" stroke-linecap="round"/><line x1="730" y1="1120" x2="1020" y2="900" stroke="url(#b38)" stroke-width="7.5" stroke-linecap="round"/><line x1="1020" y1="900" x2="1310" y2="760" stroke="url(#b39)" stroke-width="7.5" stroke-linecap="round"/><line x1="1940" y1="720" x2="1800" y2="965" stroke="url(#b40)" stroke-width="7.5" stroke-linecap="round"/><line x1="1800" y1="965" x2="1750" y2="1120" stroke="url(#b41)" stroke-width="7.5" stroke-linecap="round"/><line x1="730" y1="890" x2="695" y2="1120" stroke="#e84020" stroke-width="7"/><line x1="1238" y1="638" x2="1310.9" y2="715.4" stroke="#7e5b45" stroke-width="40"/><line x1="1310.9" y1="715.4" x2="1400" y2="810" stroke="#b8862c" stroke-width="40" stroke-linecap="round"/><circle cx="1238" cy="638" r="78" fill="url(#gC)"/><line x1="1238" y1="638" x2="1251.5" y2="576.5" stroke="#7e5b45" stroke-width="36"/><line x1="1251.5" y1="576.5" x2="1265" y2="515" stroke="#e82222" stroke-width="36" stroke-linecap="round"/><circle cx="1265" cy="515" r="73" fill="url(#gO)"/><line x1="740" y1="818" x2="687.5" y2="806.5" stroke="#e82222" stroke-width="40"/><line x1="687.5" y1="806.5" x2="635" y2="795" stroke="#e9cdcd" stroke-width="40" stroke-linecap="round"/><circle cx="635" cy="795" r="45" fill="url(#gH)"/><circle cx="740" cy="818" r="73" fill="url(#gO)"/>
</g></g>
<rect x="474" y="1653.5" width="334.4" height="188.2" fill="none" stroke="#5a86c0" stroke-width="3.2"/>
<clipPath id="clTS3"><rect x="973.7" y="1651.8" width="334.9" height="188.7"/></clipPath>
<g clip-path="url(#clTS3)">
<rect x="973.7" y="1651.8" width="334.9" height="188.7" fill="#fff"/>
<g transform="translate(969.86,1647.96) scale(0.17449)">
<defs><linearGradient id="c42" gradientUnits="userSpaceOnUse" x1="700" y1="485" x2="400" y2="640"><stop offset="0" stop-color="#b4bce6"/><stop offset="0.5" stop-color="#bba891"/><stop offset="1" stop-color="#cc962f"/></linearGradient><linearGradient id="c43" gradientUnits="userSpaceOnUse" x1="700" y1="485" x2="1040" y2="360"><stop offset="0" stop-color="#b4bce6"/><stop offset="0.5" stop-color="#bba891"/><stop offset="1" stop-color="#cc962f"/></linearGradient><linearGradient id="c44" gradientUnits="userSpaceOnUse" x1="700" y1="485" x2="540" y2="90"><stop offset="0" stop-color="#b4bce6"/><stop offset="0.5" stop-color="#bba891"/><stop offset="1" stop-color="#cc962f"/></linearGradient><linearGradient id="c45" gradientUnits="userSpaceOnUse" x1="700" y1="485" x2="985" y2="1120"><stop offset="0" stop-color="#b4bce6"/><stop offset="0.5" stop-color="#bba891"/><stop offset="1" stop-color="#cc962f"/></linearGradient><linearGradient id="c46" gradientUnits="userSpaceOnUse" x1="185" y1="1090" x2="400" y2="640"><stop offset="0" stop-color="#b4bce6"/><stop offset="0.5" stop-color="#bba891"/><stop offset="1" stop-color="#cc962f"/></linearGradient><linearGradient id="c47" gradientUnits="userSpaceOnUse" x1="185" y1="1085" x2="0" y2="1030"><stop offset="0" stop-color="#b4bce6"/><stop offset="0.5" stop-color="#bba891"/><stop offset="1" stop-color="#cc962f"/></linearGradient><linearGradient id="c48" gradientUnits="userSpaceOnUse" x1="1380" y1="1120" x2="1400" y2="1000"><stop offset="0" stop-color="#b4bce6"/><stop offset="0.5" stop-color="#bba891"/><stop offset="1" stop-color="#cc962f"/></linearGradient><linearGradient id="c49" gradientUnits="userSpaceOnUse" x1="1515" y1="520" x2="1260" y2="430"><stop offset="0" stop-color="#b4bce6"/><stop offset="0.5" stop-color="#bba891"/><stop offset="1" stop-color="#cc962f"/></linearGradient><linearGradient id="c50" gradientUnits="userSpaceOnUse" x1="1515" y1="520" x2="1940" y2="695"><stop offset="0" stop-color="#b4bce6"/><stop offset="0.5" stop-color="#bba891"/><stop offset="1" stop-color="#cc962f"/></linearGradient><linearGradient id="c51" gradientUnits="userSpaceOnUse" x1="1515" y1="520" x2="1640" y2="20"><stop offset="0" stop-color="#b4bce6"/><stop offset="0.5" stop-color="#bba891"/><stop offset="1" stop-color="#cc962f"/></linearGradient></defs><line x1="0" y1="410" x2="375" y2="555" stroke="#cc962f" stroke-width="7.5" stroke-linecap="round"/><line x1="375" y1="555" x2="820" y2="690" stroke="#cc962f" stroke-width="7.5" stroke-linecap="round"/><line x1="400" y1="640" x2="700" y2="485" stroke="url(#c42)" stroke-width="7.5" stroke-linecap="round"/><line x1="700" y1="485" x2="1040" y2="360" stroke="url(#c43)" stroke-width="7.5" stroke-linecap="round"/><line x1="1040" y1="360" x2="1250" y2="420" stroke="#cc962f" stroke-width="7.5" stroke-linecap="round"/><line x1="540" y1="90" x2="700" y2="485" stroke="url(#c44)" stroke-width="7.5" stroke-linecap="round"/><line x1="700" y1="485" x2="985" y2="1120" stroke="url(#c45)" stroke-width="7.5" stroke-linecap="round"/><line x1="410" y1="20" x2="300" y2="370" stroke="#cc962f" stroke-width="7.5" stroke-linecap="round"/><line x1="515" y1="20" x2="530" y2="75" stroke="#cc962f" stroke-width="7.5" stroke-linecap="round"/><line x1="530" y1="75" x2="620" y2="20" stroke="#cc962f" stroke-width="7.5" stroke-linecap="round"/><line x1="530" y1="75" x2="455" y2="330" stroke="#cc962f" stroke-width="7.5" stroke-linecap="round"/><line x1="455" y1="330" x2="400" y2="640" stroke="#cc962f" stroke-width="7.5" stroke-linecap="round"/><line x1="400" y1="640" x2="150" y2="965" stroke="#cc962f" stroke-width="7.5" stroke-linecap="round"/><line x1="150" y1="965" x2="0" y2="1040" stroke="#cc962f" stroke-width="7.5" stroke-linecap="round"/><line x1="300" y1="370" x2="345" y2="480" stroke="#cc962f" stroke-width="7.5" stroke-linecap="round"/><line x1="185" y1="1090" x2="400" y2="640" stroke="url(#c46)" stroke-width="7.5" stroke-linecap="round"/><line x1="150" y1="965" x2="195" y2="1120" stroke="#cc962f" stroke-width="7.5" stroke-linecap="round"/><line x1="0" y1="1030" x2="185" y2="1085" stroke="url(#c47)" stroke-width="7.5" stroke-linecap="round"/><line x1="760" y1="20" x2="955" y2="85" stroke="#cc962f" stroke-width="7.5" stroke-linecap="round"/><line x1="830" y1="700" x2="900" y2="945" stroke="#cc962f" stroke-width="7.5" stroke-linecap="round"/><line x1="900" y1="945" x2="1310" y2="1090" stroke="#cc962f" stroke-width="7.5" stroke-linecap="round"/><line x1="1090" y1="1120" x2="1310" y2="990" stroke="#cc962f" stroke-width="7.5" stroke-linecap="round"/><line x1="1310" y1="990" x2="1525" y2="1120" stroke="#cc962f" stroke-width="7.5" stroke-linecap="round"/><line x1="1690" y1="20" x2="1720" y2="90" stroke="#cc962f" stroke-width="7.5" stroke-linecap="round"/><line x1="1720" y1="90" x2="1820" y2="20" stroke="#cc962f" stroke-width="7.5" stroke-linecap="round"/><line x1="1720" y1="90" x2="1460" y2="420" stroke="#cc962f" stroke-width="7.5" stroke-linecap="round"/><line x1="1460" y1="420" x2="1560" y2="660" stroke="#cc962f" stroke-width="7.5" stroke-linecap="round"/><line x1="1560" y1="660" x2="1400" y2="1000" stroke="#cc962f" stroke-width="7.5" stroke-linecap="round"/><line x1="1400" y1="1000" x2="1380" y2="1120" stroke="url(#c48)" stroke-width="7.5" stroke-linecap="round"/><line x1="1260" y1="430" x2="1515" y2="520" stroke="url(#c49)" stroke-width="7.5" stroke-linecap="round"/><line x1="1515" y1="520" x2="1940" y2="695" stroke="url(#c50)" stroke-width="7.5" stroke-linecap="round"/><line x1="1640" y1="20" x2="1515" y2="520" stroke="url(#c51)" stroke-width="7.5" stroke-linecap="round"/><line x1="1515" y1="520" x2="1370" y2="1120" stroke="#b4bce6" stroke-width="7.5" stroke-linecap="round"/><line x1="1940" y1="920" x2="1840" y2="1120" stroke="#cc962f" stroke-width="7.5" stroke-linecap="round"/><line x1="1150" y1="400" x2="975" y2="95" stroke="#e83020" stroke-width="6"/><line x1="1315" y1="220" x2="1220" y2="400" stroke="#777" stroke-width="7" stroke-dasharray="14 10"/><line x1="1190" y1="605" x2="1086.5" y2="373.2" stroke="#7e5b45" stroke-width="40"/><line x1="1086.5" y1="373.2" x2="960" y2="90" stroke="#b8862c" stroke-width="40" stroke-linecap="round"/><line x1="1190" y1="605" x2="1082.0" y2="633.5" stroke="#7e5b45" stroke-width="40"/><line x1="1082.0" y1="633.5" x2="830" y2="700" stroke="#b8862c" stroke-width="40" stroke-linecap="round"/><line x1="1190" y1="605" x2="1298.0" y2="531.0" stroke="#7e5b45" stroke-width="40"/><line x1="1298.0" y1="531.0" x2="1460" y2="420" stroke="#b8862c" stroke-width="40" stroke-linecap="round"/><line x1="1190" y1="605" x2="1262.0" y2="781.0" stroke="#7e5b45" stroke-width="40"/><line x1="1262.0" y1="781.0" x2="1370" y2="1045" stroke="#b8862c" stroke-width="40" stroke-linecap="round"/><circle cx="1190" cy="605" r="78" fill="url(#gC)"/><line x1="1190" y1="605" x2="1187.5" y2="537.5" stroke="#7e5b45" stroke-width="36"/><line x1="1187.5" y1="537.5" x2="1185" y2="470" stroke="#e82222" stroke-width="36" stroke-linecap="round"/><circle cx="1185" cy="470" r="72" fill="url(#gO)"/><line x1="375" y1="555" x2="400.0" y2="457.5" stroke="#e82222" stroke-width="40"/><line x1="400.0" y1="457.5" x2="425" y2="360" stroke="#e9cdcd" stroke-width="40" stroke-linecap="round"/><line x1="375" y1="555" x2="486.5" y2="617.5" stroke="#e82222" stroke-width="40"/><line x1="486.5" y1="617.5" x2="598" y2="680" stroke="#e9cdcd" stroke-width="40" stroke-linecap="round"/><circle cx="425" cy="360" r="45" fill="url(#gH)"/><circle cx="598" cy="680" r="45" fill="url(#gH)"/><circle cx="375" cy="555" r="72" fill="url(#gO)"/><circle cx="1335" cy="175" r="45" fill="url(#gH)"/>
</g></g>
<rect x="973.7" y="1651.8" width="334.9" height="188.7" fill="none" stroke="#5a86c0" stroke-width="3.2"/>
<clipPath id="clTS4"><rect x="1344.6" y="1616.5" width="334.1" height="189.3"/></clipPath>
<g clip-path="url(#clTS4)">
<rect x="1344.6" y="1616.5" width="334.1" height="189.3" fill="#fff"/>
<g transform="translate(1340.76,1612.66) scale(0.17449)">
<defs><linearGradient id="d52" gradientUnits="userSpaceOnUse" x1="700" y1="485" x2="400" y2="640"><stop offset="0" stop-color="#b4bce6"/><stop offset="0.5" stop-color="#bba891"/><stop offset="1" stop-color="#cc962f"/></linearGradient><linearGradient id="d53" gradientUnits="userSpaceOnUse" x1="700" y1="485" x2="1040" y2="360"><stop offset="0" stop-color="#b4bce6"/><stop offset="0.5" stop-color="#bba891"/><stop offset="1" stop-color="#cc962f"/></linearGradient><linearGradient id="d54" gradientUnits="userSpaceOnUse" x1="700" y1="485" x2="540" y2="90"><stop offset="0" stop-color="#b4bce6"/><stop offset="0.5" stop-color="#bba891"/><stop offset="1" stop-color="#cc962f"/></linearGradient><linearGradient id="d55" gradientUnits="userSpaceOnUse" x1="700" y1="485" x2="985" y2="1120"><stop offset="0" stop-color="#b4bce6"/><stop offset="0.5" stop-color="#bba891"/><stop offset="1" stop-color="#cc962f"/></linearGradient><linearGradient id="d56" gradientUnits="userSpaceOnUse" x1="185" y1="1090" x2="400" y2="640"><stop offset="0" stop-color="#b4bce6"/><stop offset="0.5" stop-color="#bba891"/><stop offset="1" stop-color="#cc962f"/></linearGradient><linearGradient id="d57" gradientUnits="userSpaceOnUse" x1="185" y1="1085" x2="0" y2="1030"><stop offset="0" stop-color="#b4bce6"/><stop offset="0.5" stop-color="#bba891"/><stop offset="1" stop-color="#cc962f"/></linearGradient><linearGradient id="d58" gradientUnits="userSpaceOnUse" x1="1380" y1="1120" x2="1400" y2="1000"><stop offset="0" stop-color="#b4bce6"/><stop offset="0.5" stop-color="#bba891"/><stop offset="1" stop-color="#cc962f"/></linearGradient><linearGradient id="d59" gradientUnits="userSpaceOnUse" x1="1515" y1="520" x2="1260" y2="430"><stop offset="0" stop-color="#b4bce6"/><stop offset="0.5" stop-color="#bba891"/><stop offset="1" stop-color="#cc962f"/></linearGradient><linearGradient id="d60" gradientUnits="userSpaceOnUse" x1="1515" y1="520" x2="1940" y2="695"><stop offset="0" stop-color="#b4bce6"/><stop offset="0.5" stop-color="#bba891"/><stop offset="1" stop-color="#cc962f"/></linearGradient><linearGradient id="d61" gradientUnits="userSpaceOnUse" x1="1515" y1="520" x2="1640" y2="20"><stop offset="0" stop-color="#b4bce6"/><stop offset="0.5" stop-color="#bba891"/><stop offset="1" stop-color="#cc962f"/></linearGradient></defs><line x1="0" y1="410" x2="375" y2="555" stroke="#cc962f" stroke-width="7.5" stroke-linecap="round"/><line x1="375" y1="555" x2="820" y2="690" stroke="#cc962f" stroke-width="7.5" stroke-linecap="round"/><line x1="400" y1="640" x2="700" y2="485" stroke="url(#d52)" stroke-width="7.5" stroke-linecap="round"/><line x1="700" y1="485" x2="1040" y2="360" stroke="url(#d53)" stroke-width="7.5" stroke-linecap="round"/><line x1="1040" y1="360" x2="1250" y2="420" stroke="#cc962f" stroke-width="7.5" stroke-linecap="round"/><line x1="540" y1="90" x2="700" y2="485" stroke="url(#d54)" stroke-width="7.5" stroke-linecap="round"/><line x1="700" y1="485" x2="985" y2="1120" stroke="url(#d55)" stroke-width="7.5" stroke-linecap="round"/><line x1="410" y1="20" x2="300" y2="370" stroke="#cc962f" stroke-width="7.5" stroke-linecap="round"/><line x1="515" y1="20" x2="530" y2="75" stroke="#cc962f" stroke-width="7.5" stroke-linecap="round"/><line x1="530" y1="75" x2="620" y2="20" stroke="#cc962f" stroke-width="7.5" stroke-linecap="round"/><line x1="530" y1="75" x2="455" y2="330" stroke="#cc962f" stroke-width="7.5" stroke-linecap="round"/><line x1="455" y1="330" x2="400" y2="640" stroke="#cc962f" stroke-width="7.5" stroke-linecap="round"/><line x1="400" y1="640" x2="150" y2="965" stroke="#cc962f" stroke-width="7.5" stroke-linecap="round"/><line x1="150" y1="965" x2="0" y2="1040" stroke="#cc962f" stroke-width="7.5" stroke-linecap="round"/><line x1="300" y1="370" x2="345" y2="480" stroke="#cc962f" stroke-width="7.5" stroke-linecap="round"/><line x1="185" y1="1090" x2="400" y2="640" stroke="url(#d56)" stroke-width="7.5" stroke-linecap="round"/><line x1="150" y1="965" x2="195" y2="1120" stroke="#cc962f" stroke-width="7.5" stroke-linecap="round"/><line x1="0" y1="1030" x2="185" y2="1085" stroke="url(#d57)" stroke-width="7.5" stroke-linecap="round"/><line x1="760" y1="20" x2="955" y2="85" stroke="#cc962f" stroke-width="7.5" stroke-linecap="round"/><line x1="830" y1="700" x2="900" y2="945" stroke="#cc962f" stroke-width="7.5" stroke-linecap="round"/><line x1="900" y1="945" x2="1310" y2="1090" stroke="#cc962f" stroke-width="7.5" stroke-linecap="round"/><line x1="1090" y1="1120" x2="1310" y2="990" stroke="#cc962f" stroke-width="7.5" stroke-linecap="round"/><line x1="1310" y1="990" x2="1525" y2="1120" stroke="#cc962f" stroke-width="7.5" stroke-linecap="round"/><line x1="1690" y1="20" x2="1720" y2="90" stroke="#cc962f" stroke-width="7.5" stroke-linecap="round"/><line x1="1720" y1="90" x2="1820" y2="20" stroke="#cc962f" stroke-width="7.5" stroke-linecap="round"/><line x1="1720" y1="90" x2="1460" y2="420" stroke="#cc962f" stroke-width="7.5" stroke-linecap="round"/><line x1="1460" y1="420" x2="1560" y2="660" stroke="#cc962f" stroke-width="7.5" stroke-linecap="round"/><line x1="1560" y1="660" x2="1400" y2="1000" stroke="#cc962f" stroke-width="7.5" stroke-linecap="round"/><line x1="1400" y1="1000" x2="1380" y2="1120" stroke="url(#d58)" stroke-width="7.5" stroke-linecap="round"/><line x1="1260" y1="430" x2="1515" y2="520" stroke="url(#d59)" stroke-width="7.5" stroke-linecap="round"/><line x1="1515" y1="520" x2="1940" y2="695" stroke="url(#d60)" stroke-width="7.5" stroke-linecap="round"/><line x1="1640" y1="20" x2="1515" y2="520" stroke="url(#d61)" stroke-width="7.5" stroke-linecap="round"/><line x1="1515" y1="520" x2="1370" y2="1120" stroke="#b4bce6" stroke-width="7.5" stroke-linecap="round"/><line x1="1940" y1="920" x2="1840" y2="1120" stroke="#cc962f" stroke-width="7.5" stroke-linecap="round"/><line x1="1110" y1="430" x2="975" y2="95" stroke="#e83020" stroke-width="6"/><line x1="1180" y1="580" x2="1083.2" y2="359.5" stroke="#7e5b45" stroke-width="40"/><line x1="1083.2" y1="359.5" x2="965" y2="90" stroke="#b8862c" stroke-width="40" stroke-linecap="round"/><line x1="1180" y1="580" x2="1018.0" y2="634.0" stroke="#7e5b45" stroke-width="40"/><line x1="1018.0" y1="634.0" x2="820" y2="700" stroke="#b8862c" stroke-width="40" stroke-linecap="round"/><line x1="1180" y1="580" x2="1310.5" y2="499.0" stroke="#7e5b45" stroke-width="40"/><line x1="1310.5" y1="499.0" x2="1470" y2="400" stroke="#b8862c" stroke-width="40" stroke-linecap="round"/><line x1="1180" y1="580" x2="1267.8" y2="773.5" stroke="#7e5b45" stroke-width="40"/><line x1="1267.8" y1="773.5" x2="1375" y2="1010" stroke="#b8862c" stroke-width="40" stroke-linecap="round"/><circle cx="1180" cy="580" r="75" fill="url(#gC)"/><line x1="1140" y1="500" x2="1255.0" y2="462.5" stroke="#e82222" stroke-width="40"/><line x1="1255.0" y1="462.5" x2="1370" y2="425" stroke="#e9cdcd" stroke-width="40" stroke-linecap="round"/><circle cx="1140" cy="500" r="75" fill="url(#gO)"/><circle cx="1370" cy="425" r="45" fill="url(#gH)"/><line x1="375" y1="570" x2="440.0" y2="482.5" stroke="#e82222" stroke-width="40"/><line x1="440.0" y1="482.5" x2="505" y2="395" stroke="#e9cdcd" stroke-width="40" stroke-linecap="round"/><line x1="375" y1="570" x2="420.0" y2="655.0" stroke="#e82222" stroke-width="40"/><line x1="420.0" y1="655.0" x2="465" y2="740" stroke="#e9cdcd" stroke-width="40" stroke-linecap="round"/><circle cx="505" cy="395" r="45" fill="url(#gH)"/><circle cx="465" cy="740" r="45" fill="url(#gH)"/><circle cx="375" cy="570" r="72" fill="url(#gO)"/>
</g></g>
<rect x="1344.6" y="1616.5" width="334.1" height="189.3" fill="none" stroke="#5a86c0" stroke-width="3.2"/>
<clipPath id="clTS5"><rect x="1636" y="1129" width="336.6" height="189.0"/></clipPath>
<g clip-path="url(#clTS5)">
<rect x="1636" y="1129" width="336.6" height="189.0" fill="#fff"/>
<g transform="translate(1632.16,1125.16) scale(0.17449)">
<defs><linearGradient id="e62" gradientUnits="userSpaceOnUse" x1="700" y1="485" x2="400" y2="640"><stop offset="0" stop-color="#b4bce6"/><stop offset="0.5" stop-color="#bba891"/><stop offset="1" stop-color="#cc962f"/></linearGradient><linearGradient id="e63" gradientUnits="userSpaceOnUse" x1="700" y1="485" x2="1040" y2="360"><stop offset="0" stop-color="#b4bce6"/><stop offset="0.5" stop-color="#bba891"/><stop offset="1" stop-color="#cc962f"/></linearGradient><linearGradient id="e64" gradientUnits="userSpaceOnUse" x1="700" y1="485" x2="540" y2="90"><stop offset="0" stop-color="#b4bce6"/><stop offset="0.5" stop-color="#bba891"/><stop offset="1" stop-color="#cc962f"/></linearGradient><linearGradient id="e65" gradientUnits="userSpaceOnUse" x1="700" y1="485" x2="985" y2="1120"><stop offset="0" stop-color="#b4bce6"/><stop offset="0.5" stop-color="#bba891"/><stop offset="1" stop-color="#cc962f"/></linearGradient><linearGradient id="e66" gradientUnits="userSpaceOnUse" x1="185" y1="1090" x2="400" y2="640"><stop offset="0" stop-color="#b4bce6"/><stop offset="0.5" stop-color="#bba891"/><stop offset="1" stop-color="#cc962f"/></linearGradient><linearGradient id="e67" gradientUnits="userSpaceOnUse" x1="185" y1="1085" x2="0" y2="1030"><stop offset="0" stop-color="#b4bce6"/><stop offset="0.5" stop-color="#bba891"/><stop offset="1" stop-color="#cc962f"/></linearGradient><linearGradient id="e68" gradientUnits="userSpaceOnUse" x1="1380" y1="1120" x2="1400" y2="1000"><stop offset="0" stop-color="#b4bce6"/><stop offset="0.5" stop-color="#bba891"/><stop offset="1" stop-color="#cc962f"/></linearGradient><linearGradient id="e69" gradientUnits="userSpaceOnUse" x1="1515" y1="520" x2="1260" y2="430"><stop offset="0" stop-color="#b4bce6"/><stop offset="0.5" stop-color="#bba891"/><stop offset="1" stop-color="#cc962f"/></linearGradient><linearGradient id="e70" gradientUnits="userSpaceOnUse" x1="1515" y1="520" x2="1940" y2="695"><stop offset="0" stop-color="#b4bce6"/><stop offset="0.5" stop-color="#bba891"/><stop offset="1" stop-color="#cc962f"/></linearGradient><linearGradient id="e71" gradientUnits="userSpaceOnUse" x1="1515" y1="520" x2="1640" y2="20"><stop offset="0" stop-color="#b4bce6"/><stop offset="0.5" stop-color="#bba891"/><stop offset="1" stop-color="#cc962f"/></linearGradient></defs><line x1="0" y1="410" x2="375" y2="555" stroke="#cc962f" stroke-width="7.5" stroke-linecap="round"/><line x1="375" y1="555" x2="820" y2="690" stroke="#cc962f" stroke-width="7.5" stroke-linecap="round"/><line x1="400" y1="640" x2="700" y2="485" stroke="url(#e62)" stroke-width="7.5" stroke-linecap="round"/><line x1="700" y1="485" x2="1040" y2="360" stroke="url(#e63)" stroke-width="7.5" stroke-linecap="round"/><line x1="1040" y1="360" x2="1250" y2="420" stroke="#cc962f" stroke-width="7.5" stroke-linecap="round"/><line x1="540" y1="90" x2="700" y2="485" stroke="url(#e64)" stroke-width="7.5" stroke-linecap="round"/><line x1="700" y1="485" x2="985" y2="1120" stroke="url(#e65)" stroke-width="7.5" stroke-linecap="round"/><line x1="410" y1="20" x2="300" y2="370" stroke="#cc962f" stroke-width="7.5" stroke-linecap="round"/><line x1="515" y1="20" x2="530" y2="75" stroke="#cc962f" stroke-width="7.5" stroke-linecap="round"/><line x1="530" y1="75" x2="620" y2="20" stroke="#cc962f" stroke-width="7.5" stroke-linecap="round"/><line x1="530" y1="75" x2="455" y2="330" stroke="#cc962f" stroke-width="7.5" stroke-linecap="round"/><line x1="455" y1="330" x2="400" y2="640" stroke="#cc962f" stroke-width="7.5" stroke-linecap="round"/><line x1="400" y1="640" x2="150" y2="965" stroke="#cc962f" stroke-width="7.5" stroke-linecap="round"/><line x1="150" y1="965" x2="0" y2="1040" stroke="#cc962f" stroke-width="7.5" stroke-linecap="round"/><line x1="300" y1="370" x2="345" y2="480" stroke="#cc962f" stroke-width="7.5" stroke-linecap="round"/><line x1="185" y1="1090" x2="400" y2="640" stroke="url(#e66)" stroke-width="7.5" stroke-linecap="round"/><line x1="150" y1="965" x2="195" y2="1120" stroke="#cc962f" stroke-width="7.5" stroke-linecap="round"/><line x1="0" y1="1030" x2="185" y2="1085" stroke="url(#e67)" stroke-width="7.5" stroke-linecap="round"/><line x1="760" y1="20" x2="955" y2="85" stroke="#cc962f" stroke-width="7.5" stroke-linecap="round"/><line x1="830" y1="700" x2="900" y2="945" stroke="#cc962f" stroke-width="7.5" stroke-linecap="round"/><line x1="900" y1="945" x2="1310" y2="1090" stroke="#cc962f" stroke-width="7.5" stroke-linecap="round"/><line x1="1090" y1="1120" x2="1310" y2="990" stroke="#cc962f" stroke-width="7.5" stroke-linecap="round"/><line x1="1310" y1="990" x2="1525" y2="1120" stroke="#cc962f" stroke-width="7.5" stroke-linecap="round"/><line x1="1690" y1="20" x2="1720" y2="90" stroke="#cc962f" stroke-width="7.5" stroke-linecap="round"/><line x1="1720" y1="90" x2="1820" y2="20" stroke="#cc962f" stroke-width="7.5" stroke-linecap="round"/><line x1="1720" y1="90" x2="1460" y2="420" stroke="#cc962f" stroke-width="7.5" stroke-linecap="round"/><line x1="1460" y1="420" x2="1560" y2="660" stroke="#cc962f" stroke-width="7.5" stroke-linecap="round"/><line x1="1560" y1="660" x2="1400" y2="1000" stroke="#cc962f" stroke-width="7.5" stroke-linecap="round"/><line x1="1400" y1="1000" x2="1380" y2="1120" stroke="url(#e68)" stroke-width="7.5" stroke-linecap="round"/><line x1="1260" y1="430" x2="1515" y2="520" stroke="url(#e69)" stroke-width="7.5" stroke-linecap="round"/><line x1="1515" y1="520" x2="1940" y2="695" stroke="url(#e70)" stroke-width="7.5" stroke-linecap="round"/><line x1="1640" y1="20" x2="1515" y2="520" stroke="url(#e71)" stroke-width="7.5" stroke-linecap="round"/><line x1="1515" y1="520" x2="1370" y2="1120" stroke="#b4bce6" stroke-width="7.5" stroke-linecap="round"/><line x1="1940" y1="920" x2="1840" y2="1120" stroke="#cc962f" stroke-width="7.5" stroke-linecap="round"/><line x1="1700" y1="20" x2="1730" y2="90" stroke="#e83020" stroke-width="6"/><line x1="1785" y1="250" x2="1830" y2="350" stroke="#777" stroke-width="7" stroke-dasharray="22 16"/><line x1="1165" y1="568" x2="1066.0" y2="375.4" stroke="#7e5b45" stroke-width="40"/><line x1="1066.0" y1="375.4" x2="945" y2="140" stroke="#b8862c" stroke-width="40" stroke-linecap="round"/><line x1="1165" y1="568" x2="1000.8" y2="631.9" stroke="#7e5b45" stroke-width="40"/><line x1="1000.8" y1="631.9" x2="800" y2="710" stroke="#b8862c" stroke-width="40" stroke-linecap="round"/><line x1="1165" y1="568" x2="1306.8" y2="492.4" stroke="#7e5b45" stroke-width="40"/><line x1="1306.8" y1="492.4" x2="1480" y2="400" stroke="#b8862c" stroke-width="40" stroke-linecap="round"/><line x1="1165" y1="568" x2="1255.0" y2="757.9" stroke="#7e5b45" stroke-width="40"/><line x1="1255.0" y1="757.9" x2="1365" y2="990" stroke="#b8862c" stroke-width="40" stroke-linecap="round"/><circle cx="1165" cy="568" r="78" fill="url(#gC)"/><line x1="365" y1="562" x2="410.0" y2="473.5" stroke="#e82222" stroke-width="40"/><line x1="410.0" y1="473.5" x2="455" y2="385" stroke="#e9cdcd" stroke-width="40" stroke-linecap="round"/><line x1="365" y1="562" x2="465.0" y2="640.0" stroke="#e82222" stroke-width="40"/><line x1="465.0" y1="640.0" x2="565" y2="718" stroke="#e9cdcd" stroke-width="40" stroke-linecap="round"/><circle cx="455" cy="385" r="45" fill="url(#gH)"/><circle cx="565" cy="718" r="45" fill="url(#gH)"/><circle cx="365" cy="562" r="72" fill="url(#gO)"/><line x1="1738" y1="145" x2="1634.0" y2="205.0" stroke="#e82222" stroke-width="40"/><line x1="1634.0" y1="205.0" x2="1530" y2="265" stroke="#e9cdcd" stroke-width="40" stroke-linecap="round"/><circle cx="1530" cy="265" r="45" fill="url(#gH)"/><circle cx="1738" cy="145" r="73" fill="url(#gO)"/><circle cx="1855" cy="418" r="45" fill="url(#gH)"/>
</g></g>
<rect x="1636" y="1129" width="336.6" height="189.0" fill="none" stroke="#5a86c0" stroke-width="3.2"/>
<clipPath id="clTS6"><rect x="613.6" y="1015.7" width="334.1" height="188.7"/></clipPath>
<g clip-path="url(#clTS6)">
<rect x="613.6" y="1015.7" width="334.1" height="188.7" fill="#fff"/>
<g transform="translate(609.76,1011.86) scale(0.17449)">
<g transform="translate(-5,-6)"><defs><linearGradient id="f72" gradientUnits="userSpaceOnUse" x1="345" y1="295" x2="0" y2="180"><stop offset="0" stop-color="#b4bce6"/><stop offset="0.5" stop-color="#bba891"/><stop offset="1" stop-color="#cc962f"/></linearGradient><linearGradient id="f73" gradientUnits="userSpaceOnUse" x1="345" y1="295" x2="520" y2="355"><stop offset="0" stop-color="#b4bce6"/><stop offset="0.5" stop-color="#bba891"/><stop offset="1" stop-color="#cc962f"/></linearGradient><linearGradient id="f74" gradientUnits="userSpaceOnUse" x1="345" y1="295" x2="440" y2="20"><stop offset="0" stop-color="#b4bce6"/><stop offset="0.5" stop-color="#bba891"/><stop offset="1" stop-color="#cc962f"/></linearGradient><linearGradient id="f75" gradientUnits="userSpaceOnUse" x1="185" y1="860" x2="80" y2="1120"><stop offset="0" stop-color="#b4bce6"/><stop offset="0.5" stop-color="#bba891"/><stop offset="1" stop-color="#cc962f"/></linearGradient><linearGradient id="f76" gradientUnits="userSpaceOnUse" x1="700" y1="265" x2="390" y2="415"><stop offset="0" stop-color="#b4bce6"/><stop offset="0.5" stop-color="#bba891"/><stop offset="1" stop-color="#cc962f"/></linearGradient><linearGradient id="f77" gradientUnits="userSpaceOnUse" x1="700" y1="265" x2="1040" y2="140"><stop offset="0" stop-color="#b4bce6"/><stop offset="0.5" stop-color="#bba891"/><stop offset="1" stop-color="#cc962f"/></linearGradient><linearGradient id="f78" gradientUnits="userSpaceOnUse" x1="700" y1="265" x2="600" y2="20"><stop offset="0" stop-color="#b4bce6"/><stop offset="0.5" stop-color="#bba891"/><stop offset="1" stop-color="#cc962f"/></linearGradient><linearGradient id="f79" gradientUnits="userSpaceOnUse" x1="700" y1="265" x2="935" y2="715"><stop offset="0" stop-color="#b4bce6"/><stop offset="0.5" stop-color="#bba891"/><stop offset="1" stop-color="#cc962f"/></linearGradient><linearGradient id="f80" gradientUnits="userSpaceOnUse" x1="1020" y1="900" x2="935" y2="715"><stop offset="0" stop-color="#b4bce6"/><stop offset="0.5" stop-color="#bba891"/><stop offset="1" stop-color="#cc962f"/></linearGradient><linearGradient id="f81" gradientUnits="userSpaceOnUse" x1="1020" y1="900" x2="1100" y2="1120"><stop offset="0" stop-color="#b4bce6"/><stop offset="0.5" stop-color="#bba891"/><stop offset="1" stop-color="#cc962f"/></linearGradient><linearGradient id="f82" gradientUnits="userSpaceOnUse" x1="1500" y1="295" x2="1040" y2="140"><stop offset="0" stop-color="#b4bce6"/><stop offset="0.5" stop-color="#bba891"/><stop offset="1" stop-color="#cc962f"/></linearGradient><linearGradient id="f83" gradientUnits="userSpaceOnUse" x1="1500" y1="295" x2="1940" y2="470"><stop offset="0" stop-color="#b4bce6"/><stop offset="0.5" stop-color="#bba891"/><stop offset="1" stop-color="#cc962f"/></linearGradient><linearGradient id="f84" gradientUnits="userSpaceOnUse" x1="1500" y1="295" x2="1640" y2="20"><stop offset="0" stop-color="#b4bce6"/><stop offset="0.5" stop-color="#bba891"/><stop offset="1" stop-color="#cc962f"/></linearGradient><linearGradient id="f85" gradientUnits="userSpaceOnUse" x1="1360" y1="895" x2="1280" y2="1120"><stop offset="0" stop-color="#b4bce6"/><stop offset="0.5" stop-color="#bba891"/><stop offset="1" stop-color="#cc962f"/></linearGradient><linearGradient id="f86" gradientUnits="userSpaceOnUse" x1="185" y1="860" x2="0" y2="800"><stop offset="0" stop-color="#b4bce6"/><stop offset="0.5" stop-color="#bba891"/><stop offset="1" stop-color="#cc962f"/></linearGradient><linearGradient id="f87" gradientUnits="userSpaceOnUse" x1="185" y1="860" x2="665" y2="1040"><stop offset="0" stop-color="#b4bce6"/><stop offset="0.5" stop-color="#bba891"/><stop offset="1" stop-color="#cc962f"/></linearGradient><linearGradient id="f88" gradientUnits="userSpaceOnUse" x1="1020" y1="900" x2="665" y2="1040"><stop offset="0" stop-color="#b4bce6"/><stop offset="0.5" stop-color="#bba891"/><stop offset="1" stop-color="#cc962f"/></linearGradient><linearGradient id="f89" gradientUnits="userSpaceOnUse" x1="1020" y1="900" x2="730" y2="1120"><stop offset="0" stop-color="#b4bce6"/><stop offset="0.5" stop-color="#bba891"/><stop offset="1" stop-color="#cc962f"/></linearGradient><linearGradient id="f90" gradientUnits="userSpaceOnUse" x1="1020" y1="900" x2="1310" y2="760"><stop offset="0" stop-color="#b4bce6"/><stop offset="0.5" stop-color="#bba891"/><stop offset="1" stop-color="#cc962f"/></linearGradient><linearGradient id="f91" gradientUnits="userSpaceOnUse" x1="1800" y1="965" x2="1940" y2="720"><stop offset="0" stop-color="#b4bce6"/><stop offset="0.5" stop-color="#bba891"/><stop offset="1" stop-color="#cc962f"/></linearGradient><linearGradient id="f92" gradientUnits="userSpaceOnUse" x1="1800" y1="965" x2="1750" y2="1120"><stop offset="0" stop-color="#b4bce6"/><stop offset="0.5" stop-color="#bba891"/><stop offset="1" stop-color="#cc962f"/></linearGradient></defs><line x1="330" y1="20" x2="305" y2="120" stroke="#cc962f" stroke-width="7.5" stroke-linecap="round"/><line x1="305" y1="120" x2="390" y2="415" stroke="#cc962f" stroke-width="7.5" stroke-linecap="round"/><line x1="390" y1="415" x2="140" y2="735" stroke="#cc962f" stroke-width="7.5" stroke-linecap="round"/><line x1="140" y1="735" x2="0" y2="810" stroke="#cc962f" stroke-width="7.5" stroke-linecap="round"/><line x1="140" y1="735" x2="235" y2="1000" stroke="#cc962f" stroke-width="7.5" stroke-linecap="round"/><line x1="235" y1="1000" x2="195" y2="1120" stroke="#cc962f" stroke-width="7.5" stroke-linecap="round"/><line x1="0" y1="180" x2="345" y2="295" stroke="url(#f72)" stroke-width="7.5" stroke-linecap="round"/><line x1="345" y1="295" x2="520" y2="355" stroke="url(#f73)" stroke-width="7.5" stroke-linecap="round"/><line x1="520" y1="355" x2="810" y2="455" stroke="#cc962f" stroke-width="7.5" stroke-linecap="round"/><line x1="440" y1="20" x2="345" y2="295" stroke="url(#f74)" stroke-width="7.5" stroke-linecap="round"/><line x1="345" y1="295" x2="185" y2="860" stroke="#b4bce6" stroke-width="7.5" stroke-linecap="round"/><line x1="185" y1="860" x2="80" y2="1120" stroke="url(#f75)" stroke-width="7.5" stroke-linecap="round"/><line x1="390" y1="415" x2="700" y2="265" stroke="url(#f76)" stroke-width="7.5" stroke-linecap="round"/><line x1="700" y1="265" x2="1040" y2="140" stroke="url(#f77)" stroke-width="7.5" stroke-linecap="round"/><line x1="1040" y1="140" x2="1000" y2="20" stroke="#cc962f" stroke-width="7.5" stroke-linecap="round"/><line x1="600" y1="20" x2="700" y2="265" stroke="url(#f78)" stroke-width="7.5" stroke-linecap="round"/><line x1="700" y1="265" x2="935" y2="715" stroke="url(#f79)" stroke-width="7.5" stroke-linecap="round"/><line x1="935" y1="715" x2="1020" y2="900" stroke="url(#f80)" stroke-width="7.5" stroke-linecap="round"/><line x1="1020" y1="900" x2="1100" y2="1120" stroke="url(#f81)" stroke-width="7.5" stroke-linecap="round"/><line x1="1040" y1="140" x2="1500" y2="295" stroke="url(#f82)" stroke-width="7.5" stroke-linecap="round"/><line x1="1500" y1="295" x2="1940" y2="470" stroke="url(#f83)" stroke-width="7.5" stroke-linecap="round"/><line x1="1530" y1="20" x2="1460" y2="185" stroke="#cc962f" stroke-width="7.5" stroke-linecap="round"/><line x1="1460" y1="185" x2="1555" y2="440" stroke="#cc962f" stroke-width="7.5" stroke-linecap="round"/><line x1="1555" y1="440" x2="1420" y2="815" stroke="#cc962f" stroke-width="7.5" stroke-linecap="round"/><line x1="1640" y1="20" x2="1500" y2="295" stroke="url(#f84)" stroke-width="7.5" stroke-linecap="round"/><line x1="1500" y1="295" x2="1360" y2="895" stroke="#b4bce6" stroke-width="7.5" stroke-linecap="round"/><line x1="1360" y1="895" x2="1280" y2="1120" stroke="url(#f85)" stroke-width="7.5" stroke-linecap="round"/><line x1="810" y1="455" x2="895" y2="715" stroke="#cc962f" stroke-width="7.5" stroke-linecap="round"/><line x1="895" y1="715" x2="1330" y2="860" stroke="#cc962f" stroke-width="7.5" stroke-linecap="round"/><line x1="1330" y1="860" x2="1420" y2="815" stroke="#cc962f" stroke-width="7.5" stroke-linecap="round"/><line x1="1420" y1="815" x2="1830" y2="1075" stroke="#cc962f" stroke-width="7.5" stroke-linecap="round"/><line x1="1830" y1="1075" x2="1940" y2="1040" stroke="#cc962f" stroke-width="7.5" stroke-linecap="round"/><line x1="0" y1="800" x2="185" y2="860" stroke="url(#f86)" stroke-width="7.5" stroke-linecap="round"/><line x1="185" y1="860" x2="665" y2="1040" stroke="url(#f87)" stroke-width="7.5" stroke-linecap="round"/><line x1="665" y1="1040" x2="695" y2="1120" stroke="#cc962f" stroke-width="7.5" stroke-linecap="round"/><line x1="665" y1="1040" x2="1020" y2="900" stroke="url(#f88)" stroke-width="7.5" stroke-linecap="round"/><line x1="1020" y1="900" x2="1360" y2="895" stroke="#b4bce6" stroke-width="7.5" stroke-linecap="round"/><line x1="1360" y1="895" x2="1800" y2="965" stroke="#b4bce6" stroke-width="7.5" stroke-linecap="round"/><line x1="730" y1="1120" x2="1020" y2="900" stroke="url(#f89)" stroke-width="7.5" stroke-linecap="round"/><line x1="1020" y1="900" x2="1310" y2="760" stroke="url(#f90)" stroke-width="7.5" stroke-linecap="round"/><line x1="1940" y1="720" x2="1800" y2="965" stroke="url(#f91)" stroke-width="7.5" stroke-linecap="round"/><line x1="1800" y1="965" x2="1750" y2="1120" stroke="url(#f92)" stroke-width="7.5" stroke-linecap="round"/></g><line x1="985" y1="20" x2="1080" y2="290" stroke="#e84020" stroke-width="6"/><line x1="1750" y1="360" x2="1940" y2="540" stroke="#e84020" stroke-width="6"/><line x1="1085" y1="430" x2="1050" y2="620" stroke="#777" stroke-width="7" stroke-dasharray="14 10"/><line x1="1420" y1="400" x2="1399.8" y2="584.5" stroke="#7e5b45" stroke-width="40"/><line x1="1399.8" y1="584.5" x2="1375" y2="810" stroke="#b8862c" stroke-width="40" stroke-linecap="round"/><line x1="225" y1="190" x2="323.0" y2="373.8" stroke="#e9cdcd" stroke-width="40"/><line x1="323.0" y1="373.8" x2="505" y2="715" stroke="#9b3fdc" stroke-width="40" stroke-linecap="round"/><line x1="1100" y1="350" x2="879.9" y2="485.1" stroke="#e82222" stroke-width="40"/><line x1="879.9" y1="485.1" x2="505" y2="715" stroke="#9b3fdc" stroke-width="40" stroke-linecap="round"/><line x1="1045" y1="665" x2="856.0" y2="682.5" stroke="#e9cdcd" stroke-width="40"/><line x1="856.0" y1="682.5" x2="505" y2="715" stroke="#9b3fdc" stroke-width="40" stroke-linecap="round"/><line x1="1100" y1="350" x2="1260.0" y2="375.0" stroke="#e82222" stroke-width="40"/><line x1="1260.0" y1="375.0" x2="1420" y2="400" stroke="#7e5b45" stroke-width="40" stroke-linecap="round"/><line x1="1420" y1="400" x2="1560.0" y2="352.5" stroke="#7e5b45" stroke-width="40"/><line x1="1560.0" y1="352.5" x2="1700" y2="305" stroke="#e82222" stroke-width="40" stroke-linecap="round"/><circle cx="225" cy="190" r="45" fill="url(#gH)"/><circle cx="1045" cy="665" r="45" fill="url(#gH)"/><circle cx="1100" cy="350" r="72" fill="url(#gO)"/><circle cx="1420" cy="400" r="78" fill="url(#gC)"/><circle cx="1700" cy="305" r="73" fill="url(#gO)"/><circle cx="505" cy="715" r="240" fill="url(#gK)"/>
</g></g>
<rect x="613.6" y="1015.7" width="334.1" height="188.7" fill="none" stroke="#c96a6a" stroke-width="3.2"/>
<clipPath id="clTS7"><rect x="988.5" y="1077.6" width="334.8" height="188.4"/></clipPath>
<g clip-path="url(#clTS7)">
<rect x="988.5" y="1077.6" width="334.8" height="188.4" fill="#fff"/>
<g transform="translate(984.66,1073.76) scale(0.17449)">
<defs><linearGradient id="h93" gradientUnits="userSpaceOnUse" x1="195" y1="110" x2="0" y2="190"><stop offset="0" stop-color="#b4bce6"/><stop offset="0.5" stop-color="#bba891"/><stop offset="1" stop-color="#cc962f"/></linearGradient><linearGradient id="h94" gradientUnits="userSpaceOnUse" x1="195" y1="110" x2="405" y2="20"><stop offset="0" stop-color="#b4bce6"/><stop offset="0.5" stop-color="#bba891"/><stop offset="1" stop-color="#cc962f"/></linearGradient><linearGradient id="h95" gradientUnits="userSpaceOnUse" x1="195" y1="110" x2="300" y2="330"><stop offset="0" stop-color="#b4bce6"/><stop offset="0.5" stop-color="#bba891"/><stop offset="1" stop-color="#cc962f"/></linearGradient><linearGradient id="h96" gradientUnits="userSpaceOnUse" x1="1035" y1="160" x2="680" y2="20"><stop offset="0" stop-color="#b4bce6"/><stop offset="0.5" stop-color="#bba891"/><stop offset="1" stop-color="#cc962f"/></linearGradient><linearGradient id="h97" gradientUnits="userSpaceOnUse" x1="1035" y1="160" x2="1420" y2="320"><stop offset="0" stop-color="#b4bce6"/><stop offset="0.5" stop-color="#bba891"/><stop offset="1" stop-color="#cc962f"/></linearGradient><linearGradient id="h98" gradientUnits="userSpaceOnUse" x1="1035" y1="160" x2="960" y2="20"><stop offset="0" stop-color="#b4bce6"/><stop offset="0.5" stop-color="#bba891"/><stop offset="1" stop-color="#cc962f"/></linearGradient><linearGradient id="h99" gradientUnits="userSpaceOnUse" x1="1035" y1="160" x2="1085" y2="20"><stop offset="0" stop-color="#b4bce6"/><stop offset="0.5" stop-color="#bba891"/><stop offset="1" stop-color="#cc962f"/></linearGradient><linearGradient id="h100" gradientUnits="userSpaceOnUse" x1="1035" y1="160" x2="1075" y2="280"><stop offset="0" stop-color="#b4bce6"/><stop offset="0.5" stop-color="#bba891"/><stop offset="1" stop-color="#cc962f"/></linearGradient><linearGradient id="h101" gradientUnits="userSpaceOnUse" x1="1375" y1="120" x2="1340" y2="20"><stop offset="0" stop-color="#b4bce6"/><stop offset="0.5" stop-color="#bba891"/><stop offset="1" stop-color="#cc962f"/></linearGradient><linearGradient id="h102" gradientUnits="userSpaceOnUse" x1="1375" y1="120" x2="1450" y2="310"><stop offset="0" stop-color="#b4bce6"/><stop offset="0.5" stop-color="#bba891"/><stop offset="1" stop-color="#cc962f"/></linearGradient><linearGradient id="h103" gradientUnits="userSpaceOnUse" x1="1850" y1="215" x2="1750" y2="20"><stop offset="0" stop-color="#b4bce6"/><stop offset="0.5" stop-color="#bba891"/><stop offset="1" stop-color="#cc962f"/></linearGradient><linearGradient id="h104" gradientUnits="userSpaceOnUse" x1="1850" y1="215" x2="1940" y2="170"><stop offset="0" stop-color="#b4bce6"/><stop offset="0.5" stop-color="#bba891"/><stop offset="1" stop-color="#cc962f"/></linearGradient><linearGradient id="h105" gradientUnits="userSpaceOnUse" x1="1850" y1="215" x2="1620" y2="300"><stop offset="0" stop-color="#b4bce6"/><stop offset="0.5" stop-color="#bba891"/><stop offset="1" stop-color="#cc962f"/></linearGradient><linearGradient id="h106" gradientUnits="userSpaceOnUse" x1="1850" y1="215" x2="1940" y2="400"><stop offset="0" stop-color="#b4bce6"/><stop offset="0.5" stop-color="#bba891"/><stop offset="1" stop-color="#cc962f"/></linearGradient><linearGradient id="h107" gradientUnits="userSpaceOnUse" x1="45" y1="685" x2="390" y2="560"><stop offset="0" stop-color="#b4bce6"/><stop offset="0.5" stop-color="#bba891"/><stop offset="1" stop-color="#cc962f"/></linearGradient><linearGradient id="h108" gradientUnits="userSpaceOnUse" x1="45" y1="685" x2="180" y2="1120"><stop offset="0" stop-color="#b4bce6"/><stop offset="0.5" stop-color="#bba891"/><stop offset="1" stop-color="#cc962f"/></linearGradient><linearGradient id="h109" gradientUnits="userSpaceOnUse" x1="855" y1="740" x2="1340" y2="915"><stop offset="0" stop-color="#b4bce6"/><stop offset="0.5" stop-color="#bba891"/><stop offset="1" stop-color="#cc962f"/></linearGradient><linearGradient id="h110" gradientUnits="userSpaceOnUse" x1="855" y1="740" x2="905" y2="860"><stop offset="0" stop-color="#b4bce6"/><stop offset="0.5" stop-color="#bba891"/><stop offset="1" stop-color="#cc962f"/></linearGradient><linearGradient id="h111" gradientUnits="userSpaceOnUse" x1="855" y1="740" x2="720" y2="1120"><stop offset="0" stop-color="#b4bce6"/><stop offset="0.5" stop-color="#bba891"/><stop offset="1" stop-color="#cc962f"/></linearGradient><linearGradient id="h112" gradientUnits="userSpaceOnUse" x1="1690" y1="790" x2="1340" y2="915"><stop offset="0" stop-color="#b4bce6"/><stop offset="0.5" stop-color="#bba891"/><stop offset="1" stop-color="#cc962f"/></linearGradient><linearGradient id="h113" gradientUnits="userSpaceOnUse" x1="1690" y1="790" x2="1810" y2="1120"><stop offset="0" stop-color="#b4bce6"/><stop offset="0.5" stop-color="#bba891"/><stop offset="1" stop-color="#cc962f"/></linearGradient><linearGradient id="h114" gradientUnits="userSpaceOnUse" x1="1690" y1="790" x2="1940" y2="715"><stop offset="0" stop-color="#b4bce6"/><stop offset="0.5" stop-color="#bba891"/><stop offset="1" stop-color="#cc962f"/></linearGradient></defs><line x1="0" y1="190" x2="195" y2="110" stroke="url(#h93)" stroke-width="7.5" stroke-linecap="round"/><line x1="195" y1="110" x2="405" y2="20" stroke="url(#h94)" stroke-width="7.5" stroke-linecap="round"/><line x1="195" y1="110" x2="300" y2="330" stroke="url(#h95)" stroke-width="7.5" stroke-linecap="round"/><line x1="0" y1="210" x2="300" y2="330" stroke="#cc962f" stroke-width="7.5" stroke-linecap="round"/><line x1="300" y1="330" x2="390" y2="560" stroke="#cc962f" stroke-width="7.5" stroke-linecap="round"/><line x1="390" y1="560" x2="690" y2="640" stroke="#cc962f" stroke-width="7.5" stroke-linecap="round"/><line x1="680" y1="20" x2="1035" y2="160" stroke="url(#h96)" stroke-width="7.5" stroke-linecap="round"/><line x1="1035" y1="160" x2="1420" y2="320" stroke="url(#h97)" stroke-width="7.5" stroke-linecap="round"/><line x1="960" y1="20" x2="1035" y2="160" stroke="url(#h98)" stroke-width="7.5" stroke-linecap="round"/><line x1="1035" y1="160" x2="1085" y2="20" stroke="url(#h99)" stroke-width="7.5" stroke-linecap="round"/><line x1="1035" y1="160" x2="1075" y2="280" stroke="url(#h100)" stroke-width="7.5" stroke-linecap="round"/><line x1="1075" y1="280" x2="1625" y2="20" stroke="#cc962f" stroke-width="7.5" stroke-linecap="round"/><line x1="1340" y1="20" x2="1375" y2="120" stroke="url(#h101)" stroke-width="7.5" stroke-linecap="round"/><line x1="1375" y1="120" x2="1450" y2="310" stroke="url(#h102)" stroke-width="7.5" stroke-linecap="round"/><line x1="1750" y1="20" x2="1850" y2="215" stroke="url(#h103)" stroke-width="7.5" stroke-linecap="round"/><line x1="1850" y1="215" x2="1940" y2="170" stroke="url(#h104)" stroke-width="7.5" stroke-linecap="round"/><line x1="1620" y1="300" x2="1850" y2="215" stroke="url(#h105)" stroke-width="7.5" stroke-linecap="round"/><line x1="1850" y1="215" x2="1940" y2="400" stroke="url(#h106)" stroke-width="7.5" stroke-linecap="round"/><line x1="1075" y1="280" x2="910" y2="590" stroke="#cc962f" stroke-width="7.5" stroke-linecap="round"/><line x1="390" y1="560" x2="45" y2="685" stroke="url(#h107)" stroke-width="7.5" stroke-linecap="round"/><line x1="45" y1="685" x2="180" y2="1120" stroke="url(#h108)" stroke-width="7.5" stroke-linecap="round"/><line x1="0" y1="850" x2="160" y2="900" stroke="#cc962f" stroke-width="7.5" stroke-linecap="round"/><line x1="160" y1="900" x2="270" y2="1120" stroke="#cc962f" stroke-width="7.5" stroke-linecap="round"/><line x1="855" y1="740" x2="1340" y2="915" stroke="url(#h109)" stroke-width="7.5" stroke-linecap="round"/><line x1="855" y1="740" x2="905" y2="860" stroke="url(#h110)" stroke-width="7.5" stroke-linecap="round"/><line x1="905" y1="860" x2="810" y2="1120" stroke="#cc962f" stroke-width="7.5" stroke-linecap="round"/><line x1="855" y1="740" x2="720" y2="1120" stroke="url(#h111)" stroke-width="7.5" stroke-linecap="round"/><line x1="1340" y1="915" x2="1370" y2="1010" stroke="#cc962f" stroke-width="7.5" stroke-linecap="round"/><line x1="1370" y1="1010" x2="1330" y2="1120" stroke="#cc962f" stroke-width="7.5" stroke-linecap="round"/><line x1="1340" y1="915" x2="1690" y2="790" stroke="url(#h112)" stroke-width="7.5" stroke-linecap="round"/><line x1="1370" y1="1010" x2="1940" y2="660" stroke="#cc962f" stroke-width="7.5" stroke-linecap="round"/><line x1="1690" y1="790" x2="1810" y2="1120" stroke="url(#h113)" stroke-width="7.5" stroke-linecap="round"/><line x1="1690" y1="790" x2="1940" y2="715" stroke="url(#h114)" stroke-width="7.5" stroke-linecap="round"/><line x1="1925" y1="1000" x2="1895" y2="1120" stroke="#cc962f" stroke-width="7.5" stroke-linecap="round"/><line x1="1720" y1="350" x2="1850" y2="215" stroke="#a060f0" stroke-width="6"/><line x1="930" y1="710" x2="1170" y2="800" stroke="#777" stroke-width="7" stroke-dasharray="18 14"/><line x1="555" y1="745" x2="432.5" y2="540.0" stroke="#7e5b45" stroke-width="40"/><line x1="432.5" y1="540.0" x2="310" y2="335" stroke="#b8862c" stroke-width="40" stroke-linecap="round"/><line x1="555" y1="745" x2="357.5" y2="825.0" stroke="#7e5b45" stroke-width="40"/><line x1="357.5" y1="825.0" x2="160" y2="905" stroke="#b8862c" stroke-width="40" stroke-linecap="round"/><line x1="555" y1="745" x2="682.5" y2="660.0" stroke="#7e5b45" stroke-width="40"/><line x1="682.5" y1="660.0" x2="810" y2="575" stroke="#b8862c" stroke-width="40" stroke-linecap="round"/><line x1="555" y1="745" x2="632.5" y2="932.5" stroke="#7e5b45" stroke-width="40"/><line x1="632.5" y1="932.5" x2="710" y2="1120" stroke="#b8862c" stroke-width="40" stroke-linecap="round"/><circle cx="555" cy="745" r="78" fill="url(#gC)"/><line x1="830" y1="670" x2="852.5" y2="555.0" stroke="#e82222" stroke-width="40"/><line x1="852.5" y1="555.0" x2="875" y2="440" stroke="#e9cdcd" stroke-width="40" stroke-linecap="round"/><line x1="830" y1="670" x2="1103.6" y2="616.8" stroke="#e82222" stroke-width="40"/><line x1="1103.6" y1="616.8" x2="1550" y2="530" stroke="#9b3fdc" stroke-width="40" stroke-linecap="round"/><circle cx="875" cy="440" r="45" fill="url(#gH)"/><circle cx="830" cy="670" r="72" fill="url(#gO)"/><circle cx="1230" cy="820" r="45" fill="url(#gH)"/><circle cx="550" cy="5" r="40" fill="url(#gH)"/><circle cx="1550" cy="530" r="240" fill="url(#gK)"/>
</g></g>
<rect x="988.5" y="1077.6" width="334.8" height="188.4" fill="none" stroke="#c96a6a" stroke-width="3.2"/>
<line x1="133" y1="1321" x2="247.5" y2="1321" stroke="#5a86c0" stroke-width="3.8" stroke-linecap="round"/>
<line x1="479.8" y1="1404.3" x2="598.6" y2="1404.3" stroke="#5a86c0" stroke-width="3.8" stroke-linecap="round"/>
<line x1="831" y1="1671.8" x2="947.3" y2="1671.8" stroke="#5a86c0" stroke-width="3.8" stroke-linecap="round"/>
<line x1="1179.5" y1="1578.6" x2="1297.6" y2="1578.6" stroke="#5a86c0" stroke-width="3.8" stroke-linecap="round"/>
<line x1="1530" y1="1521.3" x2="1647.7" y2="1521.3" stroke="#5a86c0" stroke-width="3.8" stroke-linecap="round"/>
<line x1="1879.5" y1="1597.9" x2="1995" y2="1597.9" stroke="#5a86c0" stroke-width="3.8" stroke-linecap="round"/>
<polyline points="247.5,1321.0 248.9,1316.8 250.3,1312.6 251.7,1308.5 253.1,1304.3 254.5,1300.2 255.9,1296.0 257.3,1291.9 258.8,1287.7 260.2,1283.6 261.6,1279.5 263.0,1275.4 264.4,1271.3 265.8,1267.3 267.2,1263.3 268.6,1259.3 270.0,1255.3 271.4,1251.3 272.8,1247.4 274.2,1243.5 275.6,1239.6 277.0,1235.8 278.4,1232.0 279.8,1228.2 281.2,1224.4 282.7,1220.7 284.1,1217.1 285.5,1213.4 286.9,1209.9 288.3,1206.3 289.7,1202.8 291.1,1199.4 292.5,1196.0 293.9,1192.6 295.3,1189.3 296.7,1186.1 298.1,1182.9 299.5,1179.7 300.9,1176.6 302.3,1173.6 303.8,1170.6 305.2,1167.7 306.6,1164.8 308.0,1162.0 309.4,1159.3 310.8,1156.6 312.2,1154.0 313.6,1151.4 315.0,1148.9 316.4,1146.5 317.8,1144.1 319.2,1141.9 320.6,1139.6 322.0,1137.5 323.4,1135.4 324.8,1133.4 326.2,1131.5 327.7,1129.6 329.1,1127.8 330.5,1126.1 331.9,1124.5 333.3,1122.9 334.7,1121.4 336.1,1120.0 337.5,1118.7 338.9,1117.5 340.3,1116.3 341.7,1115.2 343.1,1114.2 344.5,1113.2 345.9,1112.4 347.3,1111.6 348.8,1110.9 350.2,1110.3 351.6,1109.8 353.0,1109.3 354.4,1109.0 355.8,1108.7 357.2,1108.5 358.6,1108.3 360.0,1108.3 361.5,1108.4 363.0,1108.5 364.5,1108.8 366.0,1109.2 367.5,1109.7 369.0,1110.4 370.5,1111.1 372.0,1111.9 373.5,1112.9 375.0,1114.0 376.5,1115.2 378.0,1116.5 379.5,1117.9 381.0,1119.4 382.5,1121.0 384.0,1122.8 385.5,1124.6 387.0,1126.6 388.5,1128.7 389.9,1130.8 391.4,1133.1 392.9,1135.5 394.4,1138.0 395.9,1140.6 397.4,1143.3 398.9,1146.0 400.4,1148.9 401.9,1151.9 403.4,1155.0 404.9,1158.2 406.4,1161.5 407.9,1164.8 409.4,1168.3 410.9,1171.8 412.4,1175.5 413.9,1179.2 415.4,1183.0 416.9,1186.9 418.4,1190.9 419.9,1195.0 421.4,1199.1 422.9,1203.4 424.4,1207.7 425.9,1212.1 427.4,1216.5 428.9,1221.0 430.4,1225.6 431.9,1230.3 433.4,1235.1 434.9,1239.9 436.4,1244.7 437.9,1249.6 439.4,1254.6 440.9,1259.7 442.4,1264.8 443.9,1269.9 445.4,1275.1 446.9,1280.4 448.4,1285.7 449.9,1291.0 451.3,1296.4 452.8,1301.8 454.3,1307.3 455.8,1312.8 457.3,1318.4 458.8,1324.0 460.3,1329.6 461.8,1335.2 463.3,1340.9 464.8,1346.6 466.3,1352.3 467.8,1358.0 469.3,1363.7 470.8,1369.5 472.3,1375.3 473.8,1381.1 475.3,1386.9 476.8,1392.7 478.3,1398.5 479.8,1404.3" fill="none" stroke="#5a86c0" stroke-width="3.8" stroke-dasharray="11.77 12.76" stroke-linecap="round" stroke-linejoin="round"/>
<polyline points="598.6,1404.3 599.7,1402.4 600.8,1400.6 601.9,1398.7 603.0,1396.9 604.1,1395.1 605.2,1393.2 606.3,1391.4 607.4,1389.5 608.5,1387.7 609.6,1385.9 610.7,1384.1 611.8,1382.3 612.9,1380.5 614.0,1378.7 615.1,1376.9 616.2,1375.2 617.3,1373.4 618.4,1371.7 619.5,1369.9 620.6,1368.2 621.8,1366.5 622.9,1364.8 624.0,1363.1 625.1,1361.5 626.2,1359.8 627.3,1358.2 628.4,1356.6 629.5,1355.0 630.6,1353.5 631.7,1351.9 632.8,1350.4 633.9,1348.9 635.0,1347.4 636.1,1345.9 637.2,1344.5 638.3,1343.1 639.4,1341.7 640.5,1340.3 641.6,1338.9 642.7,1337.6 643.8,1336.3 644.9,1335.1 646.0,1333.8 647.1,1332.6 648.2,1331.4 649.3,1330.2 650.4,1329.1 651.5,1328.0 652.6,1326.9 653.7,1325.9 654.8,1324.9 655.9,1323.9 657.0,1322.9 658.1,1322.0 659.2,1321.1 660.3,1320.3 661.4,1319.5 662.5,1318.7 663.6,1317.9 664.8,1317.2 665.9,1316.5 667.0,1315.8 668.1,1315.2 669.2,1314.6 670.3,1314.1 671.4,1313.5 672.5,1313.1 673.6,1312.6 674.7,1312.2 675.8,1311.8 676.9,1311.5 678.0,1311.2 679.1,1310.9 680.2,1310.7 681.3,1310.5 682.4,1310.3 683.5,1310.2 684.6,1310.1 685.7,1310.0 686.8,1310.0 688.6,1310.1 690.4,1310.3 692.2,1310.6 694.0,1311.1 695.8,1311.7 697.6,1312.5 699.4,1313.4 701.2,1314.5 703.0,1315.6 704.8,1317.0 706.6,1318.4 708.4,1320.0 710.2,1321.7 712.0,1323.6 713.8,1325.6 715.6,1327.7 717.4,1330.0 719.2,1332.4 721.0,1334.9 722.8,1337.5 724.7,1340.3 726.5,1343.2 728.3,1346.3 730.1,1349.4 731.9,1352.7 733.7,1356.1 735.5,1359.7 737.3,1363.3 739.1,1367.1 740.9,1371.0 742.7,1375.0 744.5,1379.1 746.3,1383.3 748.1,1387.7 749.9,1392.1 751.7,1396.7 753.5,1401.4 755.3,1406.1 757.1,1411.0 758.9,1416.0 760.7,1421.0 762.5,1426.2 764.3,1431.5 766.1,1436.8 767.9,1442.3 769.7,1447.8 771.5,1453.4 773.3,1459.1 775.1,1464.9 776.9,1470.8 778.7,1476.7 780.5,1482.8 782.3,1488.9 784.1,1495.0 785.9,1501.2 787.7,1507.5 789.5,1513.9 791.3,1520.3 793.1,1526.8 795.0,1533.3 796.8,1539.9 798.6,1546.6 800.4,1553.3 802.2,1560.0 804.0,1566.8 805.8,1573.6 807.6,1580.4 809.4,1587.3 811.2,1594.3 813.0,1601.2 814.8,1608.2 816.6,1615.2 818.4,1622.2 820.2,1629.3 822.0,1636.3 823.8,1643.4 825.6,1650.5 827.4,1657.6 829.2,1664.7 831.0,1671.8" fill="none" stroke="#5a86c0" stroke-width="3.8" stroke-dasharray="11.92 12.91" stroke-linecap="round" stroke-linejoin="round"/>
<polyline points="947.3,1671.8 948.9,1667.0 950.5,1662.2 952.0,1657.4 953.6,1652.6 955.2,1647.9 956.8,1643.1 958.4,1638.3 959.9,1633.6 961.5,1628.9 963.1,1624.2 964.7,1619.5 966.3,1614.8 967.9,1610.1 969.4,1605.5 971.0,1600.9 972.6,1596.3 974.2,1591.8 975.8,1587.3 977.3,1582.8 978.9,1578.3 980.5,1573.9 982.1,1569.6 983.7,1565.2 985.2,1560.9 986.8,1556.7 988.4,1552.5 990.0,1548.3 991.6,1544.2 993.2,1540.1 994.7,1536.1 996.3,1532.2 997.9,1528.3 999.5,1524.4 1001.1,1520.6 1002.6,1516.9 1004.2,1513.2 1005.8,1509.6 1007.4,1506.0 1009.0,1502.5 1010.5,1499.1 1012.1,1495.8 1013.7,1492.5 1015.3,1489.3 1016.9,1486.1 1018.5,1483.0 1020.0,1480.0 1021.6,1477.1 1023.2,1474.2 1024.8,1471.5 1026.4,1468.8 1027.9,1466.1 1029.5,1463.6 1031.1,1461.1 1032.7,1458.7 1034.3,1456.4 1035.8,1454.2 1037.4,1452.1 1039.0,1450.0 1040.6,1448.1 1042.2,1446.2 1043.8,1444.4 1045.3,1442.7 1046.9,1441.1 1048.5,1439.6 1050.1,1438.1 1051.7,1436.8 1053.2,1435.5 1054.8,1434.3 1056.4,1433.3 1058.0,1432.3 1059.6,1431.4 1061.1,1430.6 1062.7,1429.9 1064.3,1429.3 1065.9,1428.8 1067.5,1428.4 1069.1,1428.0 1070.6,1427.8 1072.2,1427.6 1073.8,1427.6 1075.1,1427.6 1076.4,1427.7 1077.8,1427.9 1079.1,1428.1 1080.4,1428.3 1081.7,1428.6 1083.0,1429.0 1084.4,1429.5 1085.7,1430.0 1087.0,1430.5 1088.3,1431.1 1089.7,1431.8 1091.0,1432.5 1092.3,1433.3 1093.6,1434.1 1094.9,1435.0 1096.3,1435.9 1097.6,1436.9 1098.9,1438.0 1100.2,1439.1 1101.5,1440.3 1102.9,1441.5 1104.2,1442.7 1105.5,1444.1 1106.8,1445.4 1108.2,1446.9 1109.5,1448.3 1110.8,1449.9 1112.1,1451.4 1113.4,1453.0 1114.8,1454.7 1116.1,1456.4 1117.4,1458.2 1118.7,1460.0 1120.0,1461.9 1121.4,1463.8 1122.7,1465.7 1124.0,1467.7 1125.3,1469.8 1126.7,1471.8 1128.0,1473.9 1129.3,1476.1 1130.6,1478.3 1131.9,1480.5 1133.3,1482.8 1134.6,1485.1 1135.9,1487.5 1137.2,1489.8 1138.5,1492.3 1139.9,1494.7 1141.2,1497.2 1142.5,1499.7 1143.8,1502.2 1145.1,1504.8 1146.5,1507.4 1147.8,1510.0 1149.1,1512.7 1150.4,1515.4 1151.8,1518.1 1153.1,1520.8 1154.4,1523.6 1155.7,1526.3 1157.0,1529.1 1158.4,1531.9 1159.7,1534.8 1161.0,1537.6 1162.3,1540.5 1163.6,1543.3 1165.0,1546.2 1166.3,1549.1 1167.6,1552.1 1168.9,1555.0 1170.3,1557.9 1171.6,1560.9 1172.9,1563.8 1174.2,1566.8 1175.5,1569.7 1176.9,1572.7 1178.2,1575.6 1179.5,1578.6" fill="none" stroke="#5a86c0" stroke-width="3.8" stroke-dasharray="11.69 12.67" stroke-linecap="round" stroke-linejoin="round"/>
<polyline points="1297.6,1578.6 1299.1,1572.8 1300.6,1567.0 1302.1,1561.3 1303.6,1555.5 1305.1,1549.7 1306.6,1544.0 1308.1,1538.3 1309.6,1532.5 1311.1,1526.8 1312.6,1521.2 1314.1,1515.5 1315.6,1509.9 1317.1,1504.3 1318.6,1498.7 1320.1,1493.1 1321.6,1487.6 1323.1,1482.1 1324.6,1476.7 1326.1,1471.3 1327.6,1465.9 1329.1,1460.6 1330.6,1455.3 1332.1,1450.1 1333.6,1444.9 1335.1,1439.8 1336.6,1434.7 1338.1,1429.7 1339.6,1424.8 1341.1,1419.9 1342.6,1415.0 1344.1,1410.3 1345.6,1405.6 1347.1,1400.9 1348.6,1396.3 1350.1,1391.8 1351.6,1387.4 1353.1,1383.0 1354.6,1378.8 1356.1,1374.6 1357.7,1370.4 1359.2,1366.4 1360.7,1362.4 1362.2,1358.5 1363.7,1354.7 1365.2,1351.0 1366.7,1347.4 1368.2,1343.9 1369.7,1340.4 1371.2,1337.1 1372.7,1333.8 1374.2,1330.7 1375.7,1327.6 1377.2,1324.6 1378.7,1321.7 1380.2,1319.0 1381.7,1316.3 1383.2,1313.7 1384.7,1311.2 1386.2,1308.9 1387.7,1306.6 1389.2,1304.5 1390.7,1302.4 1392.2,1300.4 1393.7,1298.6 1395.2,1296.9 1396.7,1295.3 1398.2,1293.7 1399.7,1292.3 1401.2,1291.0 1402.7,1289.9 1404.2,1288.8 1405.7,1287.8 1407.2,1287.0 1408.7,1286.2 1410.2,1285.6 1411.7,1285.1 1413.2,1284.7 1414.7,1284.4 1416.2,1284.3 1417.7,1284.2 1419.1,1284.2 1420.5,1284.4 1421.9,1284.6 1423.3,1284.9 1424.7,1285.3 1426.1,1285.8 1427.5,1286.4 1428.9,1287.1 1430.3,1287.9 1431.7,1288.8 1433.1,1289.7 1434.5,1290.8 1435.9,1291.9 1437.4,1293.1 1438.8,1294.4 1440.2,1295.8 1441.6,1297.3 1443.0,1298.9 1444.4,1300.5 1445.8,1302.2 1447.2,1304.1 1448.6,1306.0 1450.0,1308.0 1451.4,1310.0 1452.8,1312.2 1454.2,1314.4 1455.6,1316.7 1457.0,1319.1 1458.4,1321.6 1459.8,1324.2 1461.2,1326.8 1462.6,1329.5 1464.0,1332.3 1465.4,1335.1 1466.8,1338.0 1468.2,1341.0 1469.6,1344.1 1471.0,1347.2 1472.4,1350.4 1473.8,1353.6 1475.3,1357.0 1476.7,1360.4 1478.1,1363.8 1479.5,1367.3 1480.9,1370.9 1482.3,1374.5 1483.7,1378.2 1485.1,1381.9 1486.5,1385.7 1487.9,1389.6 1489.3,1393.5 1490.7,1397.4 1492.1,1401.4 1493.5,1405.4 1494.9,1409.5 1496.3,1413.7 1497.7,1417.8 1499.1,1422.0 1500.5,1426.3 1501.9,1430.6 1503.3,1434.9 1504.7,1439.2 1506.1,1443.6 1507.5,1448.0 1508.9,1452.5 1510.3,1456.9 1511.8,1461.4 1513.2,1466.0 1514.6,1470.5 1516.0,1475.0 1517.4,1479.6 1518.8,1484.2 1520.2,1488.8 1521.6,1493.4 1523.0,1498.1 1524.4,1502.7 1525.8,1507.3 1527.2,1512.0 1528.6,1516.6 1530.0,1521.3" fill="none" stroke="#5a86c0" stroke-width="3.8" stroke-dasharray="12.19 13.21" stroke-linecap="round" stroke-linejoin="round"/>
<polyline points="1647.7,1521.3 1649.0,1518.6 1650.4,1515.8 1651.7,1513.1 1653.0,1510.3 1654.4,1507.6 1655.7,1504.9 1657.1,1502.2 1658.4,1499.4 1659.7,1496.7 1661.1,1494.0 1662.4,1491.4 1663.8,1488.7 1665.1,1486.0 1666.4,1483.4 1667.8,1480.7 1669.1,1478.1 1670.4,1475.5 1671.8,1472.9 1673.1,1470.4 1674.5,1467.8 1675.8,1465.3 1677.1,1462.8 1678.5,1460.3 1679.8,1457.9 1681.1,1455.4 1682.5,1453.0 1683.8,1450.7 1685.2,1448.3 1686.5,1446.0 1687.8,1443.7 1689.2,1441.4 1690.5,1439.2 1691.8,1437.0 1693.2,1434.8 1694.5,1432.7 1695.9,1430.6 1697.2,1428.5 1698.5,1426.5 1699.9,1424.5 1701.2,1422.5 1702.5,1420.6 1703.9,1418.7 1705.2,1416.9 1706.5,1415.1 1707.9,1413.3 1709.2,1411.6 1710.6,1409.9 1711.9,1408.3 1713.2,1406.7 1714.6,1405.1 1715.9,1403.6 1717.2,1402.2 1718.6,1400.8 1719.9,1399.4 1721.3,1398.1 1722.6,1396.8 1723.9,1395.6 1725.3,1394.4 1726.6,1393.3 1728.0,1392.2 1729.3,1391.2 1730.6,1390.2 1732.0,1389.3 1733.3,1388.4 1734.6,1387.6 1736.0,1386.8 1737.3,1386.1 1738.7,1385.5 1740.0,1384.8 1741.3,1384.3 1742.7,1383.8 1744.0,1383.3 1745.3,1382.9 1746.7,1382.6 1748.0,1382.3 1749.4,1382.0 1750.7,1381.8 1752.0,1381.7 1753.4,1381.6 1754.7,1381.6 1756.3,1381.6 1757.8,1381.8 1759.4,1382.0 1760.9,1382.3 1762.5,1382.6 1764.1,1383.1 1765.6,1383.6 1767.2,1384.3 1768.7,1385.0 1770.3,1385.8 1771.9,1386.6 1773.4,1387.6 1775.0,1388.6 1776.5,1389.7 1778.1,1390.9 1779.7,1392.2 1781.2,1393.5 1782.8,1395.0 1784.3,1396.5 1785.9,1398.1 1787.5,1399.7 1789.0,1401.5 1790.6,1403.3 1792.1,1405.2 1793.7,1407.1 1795.3,1409.2 1796.8,1411.3 1798.4,1413.5 1799.9,1415.7 1801.5,1418.1 1803.1,1420.4 1804.6,1422.9 1806.2,1425.4 1807.7,1428.0 1809.3,1430.7 1810.9,1433.4 1812.4,1436.2 1814.0,1439.1 1815.5,1442.0 1817.1,1445.0 1818.7,1448.0 1820.2,1451.1 1821.8,1454.2 1823.3,1457.4 1824.9,1460.7 1826.5,1464.0 1828.0,1467.4 1829.6,1470.8 1831.1,1474.2 1832.7,1477.7 1834.3,1481.3 1835.8,1484.9 1837.4,1488.5 1838.9,1492.2 1840.5,1495.9 1842.1,1499.7 1843.6,1503.5 1845.2,1507.3 1846.7,1511.2 1848.3,1515.1 1849.9,1519.1 1851.4,1523.0 1853.0,1527.0 1854.5,1531.1 1856.1,1535.1 1857.7,1539.2 1859.2,1543.3 1860.8,1547.4 1862.3,1551.5 1863.9,1555.7 1865.5,1559.9 1867.0,1564.1 1868.6,1568.3 1870.1,1572.5 1871.7,1576.7 1873.3,1580.9 1874.8,1585.2 1876.4,1589.4 1877.9,1593.7 1879.5,1597.9" fill="none" stroke="#5a86c0" stroke-width="3.8" stroke-dasharray="12.09 13.10" stroke-linecap="round" stroke-linejoin="round"/>
<line x1="133" y1="1321" x2="247.5" y2="1321" stroke="#c96a6a" stroke-width="3.8" stroke-linecap="round"/>
<line x1="831" y1="1546.5" x2="948" y2="1546.5" stroke="#c96a6a" stroke-width="3.8" stroke-linecap="round"/>
<line x1="1878.5" y1="1725.2" x2="1995" y2="1725.2" stroke="#c96a6a" stroke-width="3.8" stroke-linecap="round"/>
<polyline points="247.5,1321.0 250.6,1317.8 253.8,1314.6 256.9,1311.4 260.0,1308.3 263.2,1305.1 266.3,1301.9 269.4,1298.7 272.6,1295.6 275.7,1292.5 278.9,1289.3 282.0,1286.2 285.1,1283.1 288.3,1280.0 291.4,1276.9 294.5,1273.9 297.7,1270.8 300.8,1267.8 303.9,1264.8 307.1,1261.8 310.2,1258.9 313.3,1255.9 316.5,1253.0 319.6,1250.1 322.7,1247.3 325.9,1244.4 329.0,1241.6 332.1,1238.9 335.3,1236.1 338.4,1233.4 341.6,1230.8 344.7,1228.1 347.8,1225.5 351.0,1223.0 354.1,1220.5 357.2,1218.0 360.4,1215.5 363.5,1213.1 366.6,1210.8 369.8,1208.4 372.9,1206.2 376.0,1203.9 379.2,1201.7 382.3,1199.6 385.4,1197.5 388.6,1195.5 391.7,1193.5 394.8,1191.5 398.0,1189.6 401.1,1187.8 404.2,1186.0 407.4,1184.2 410.5,1182.5 413.7,1180.9 416.8,1179.3 419.9,1177.8 423.1,1176.3 426.2,1174.9 429.3,1173.5 432.5,1172.2 435.6,1171.0 438.7,1169.8 441.9,1168.6 445.0,1167.6 448.1,1166.5 451.3,1165.6 454.4,1164.7 457.5,1163.9 460.7,1163.1 463.8,1162.4 467.0,1161.7 470.1,1161.1 473.2,1160.6 476.4,1160.1 479.5,1159.7 482.6,1159.4 485.8,1159.1 488.9,1158.9 492.0,1158.7 495.2,1158.6 498.3,1158.6 502.5,1158.7 506.6,1158.9 510.8,1159.3 514.9,1159.8 519.1,1160.5 523.3,1161.3 527.4,1162.3 531.6,1163.4 535.7,1164.6 539.9,1166.1 544.0,1167.6 548.2,1169.3 552.4,1171.2 556.5,1173.2 560.7,1175.3 564.8,1177.6 569.0,1180.0 573.2,1182.6 577.3,1185.3 581.5,1188.1 585.6,1191.1 589.8,1194.2 594.0,1197.5 598.1,1200.9 602.3,1204.4 606.4,1208.1 610.6,1211.8 614.7,1215.8 618.9,1219.8 623.1,1224.0 627.2,1228.3 631.4,1232.7 635.5,1237.2 639.7,1241.9 643.9,1246.6 648.0,1251.5 652.2,1256.5 656.3,1261.7 660.5,1266.9 664.6,1272.2 668.8,1277.7 673.0,1283.2 677.1,1288.8 681.3,1294.6 685.4,1300.4 689.6,1306.4 693.8,1312.4 697.9,1318.5 702.1,1324.7 706.2,1331.0 710.4,1337.4 714.6,1343.8 718.7,1350.4 722.9,1357.0 727.0,1363.6 731.2,1370.4 735.3,1377.2 739.5,1384.1 743.7,1391.0 747.8,1398.1 752.0,1405.1 756.1,1412.2 760.3,1419.4 764.5,1426.6 768.6,1433.9 772.8,1441.2 776.9,1448.6 781.1,1455.9 785.3,1463.4 789.4,1470.8 793.6,1478.3 797.7,1485.8 801.9,1493.4 806.0,1500.9 810.2,1508.5 814.4,1516.1 818.5,1523.7 822.7,1531.3 826.8,1538.9 831.0,1546.5" fill="none" stroke="#c96a6a" stroke-width="3.8" stroke-dasharray="11.99 12.99" stroke-linecap="round" stroke-linejoin="round"/>
<polyline points="948.0,1546.5 953.1,1542.8 958.1,1539.1 963.2,1535.4 968.3,1531.7 973.3,1528.1 978.4,1524.4 983.5,1520.7 988.5,1517.1 993.6,1513.4 998.7,1509.8 1003.8,1506.2 1008.8,1502.6 1013.9,1499.0 1019.0,1495.4 1024.0,1491.9 1029.1,1488.4 1034.2,1484.9 1039.2,1481.4 1044.3,1477.9 1049.4,1474.5 1054.4,1471.1 1059.5,1467.8 1064.6,1464.4 1069.7,1461.1 1074.7,1457.8 1079.8,1454.6 1084.9,1451.4 1089.9,1448.2 1095.0,1445.1 1100.1,1442.0 1105.1,1438.9 1110.2,1435.9 1115.3,1433.0 1120.3,1430.0 1125.4,1427.2 1130.5,1424.3 1135.5,1421.6 1140.6,1418.8 1145.7,1416.1 1150.8,1413.5 1155.8,1410.9 1160.9,1408.4 1166.0,1405.9 1171.0,1403.5 1176.1,1401.1 1181.2,1398.8 1186.2,1396.5 1191.3,1394.3 1196.4,1392.2 1201.4,1390.1 1206.5,1388.1 1211.6,1386.1 1216.6,1384.2 1221.7,1382.4 1226.8,1380.6 1231.8,1378.9 1236.9,1377.3 1242.0,1375.7 1247.1,1374.2 1252.1,1372.7 1257.2,1371.3 1262.3,1370.0 1267.3,1368.8 1272.4,1367.6 1277.5,1366.5 1282.5,1365.5 1287.6,1364.5 1292.7,1363.6 1297.7,1362.8 1302.8,1362.0 1307.9,1361.3 1313.0,1360.7 1318.0,1360.2 1323.1,1359.7 1328.2,1359.3 1333.2,1359.0 1338.3,1358.7 1343.4,1358.5 1348.4,1358.4 1353.5,1358.4 1360.1,1358.5 1366.6,1358.7 1373.2,1359.0 1379.8,1359.5 1386.3,1360.2 1392.9,1360.9 1399.4,1361.9 1406.0,1362.9 1412.6,1364.1 1419.1,1365.4 1425.7,1366.9 1432.2,1368.5 1438.8,1370.3 1445.4,1372.2 1451.9,1374.2 1458.5,1376.4 1465.1,1378.6 1471.6,1381.1 1478.2,1383.6 1484.8,1386.3 1491.3,1389.1 1497.9,1392.1 1504.4,1395.2 1511.0,1398.4 1517.6,1401.7 1524.1,1405.2 1530.7,1408.7 1537.2,1412.5 1543.8,1416.3 1550.4,1420.2 1556.9,1424.3 1563.5,1428.5 1570.1,1432.7 1576.6,1437.1 1583.2,1441.7 1589.8,1446.3 1596.3,1451.0 1602.9,1455.9 1609.4,1460.8 1616.0,1465.8 1622.6,1471.0 1629.1,1476.2 1635.7,1481.6 1642.2,1487.0 1648.8,1492.5 1655.4,1498.1 1661.9,1503.8 1668.5,1509.6 1675.1,1515.5 1681.6,1521.4 1688.2,1527.4 1694.8,1533.5 1701.3,1539.7 1707.9,1546.0 1714.4,1552.3 1721.0,1558.7 1727.6,1565.1 1734.1,1571.6 1740.7,1578.2 1747.2,1584.8 1753.8,1591.5 1760.4,1598.2 1766.9,1605.0 1773.5,1611.9 1780.1,1618.7 1786.6,1625.6 1793.2,1632.6 1799.8,1639.6 1806.3,1646.6 1812.9,1653.6 1819.4,1660.7 1826.0,1667.8 1832.6,1674.9 1839.1,1682.1 1845.7,1689.2 1852.2,1696.4 1858.8,1703.6 1865.4,1710.8 1871.9,1718.0 1878.5,1725.2" fill="none" stroke="#c96a6a" stroke-width="3.8" stroke-dasharray="12.01 13.02" stroke-linecap="round" stroke-linejoin="round"/>
<rect x="132" y="997.9" width="1865" height="863.5" fill="none" stroke="#000" stroke-width="4.2"/>
<line x1="122" y1="1105.7" x2="132" y2="1105.7" stroke="#000" stroke-width="3"/>
<line x1="122" y1="1321.0" x2="132" y2="1321.0" stroke="#000" stroke-width="3"/>
<line x1="122" y1="1536.3" x2="132" y2="1536.3" stroke="#000" stroke-width="3"/>
<line x1="122" y1="1751.6" x2="132" y2="1751.6" stroke="#000" stroke-width="3"/>
<line x1="126" y1="998.0" x2="132" y2="998.0" stroke="#000" stroke-width="2.5"/>
<line x1="126" y1="1213.3" x2="132" y2="1213.3" stroke="#000" stroke-width="2.5"/>
<line x1="126" y1="1428.7" x2="132" y2="1428.7" stroke="#000" stroke-width="2.5"/>
<line x1="126" y1="1644.0" x2="132" y2="1644.0" stroke="#000" stroke-width="2.5"/>
<line x1="126" y1="1859.2" x2="132" y2="1859.2" stroke="#000" stroke-width="2.5"/>
<text x="115.8" y="1119.5" font-size="38.5" fill="#000" text-anchor="end">1</text>
<text x="115.4" y="1334.8" font-size="38.5" fill="#000" text-anchor="end">0</text>
<text x="115.7" y="1550.1" font-size="38.5" fill="#000" text-anchor="end">−1</text>
<text x="115.9" y="1765.4" font-size="38.5" fill="#000" text-anchor="end">−2</text>
<text transform="translate(37,1632.8) rotate(-90)" font-size="50.5">Free energy / eV</text>
<text x="837.7" y="1940.3" font-size="49.8" fill="#000">Reaction Coordinate</text>
<line x1="350.2" y1="1252.8" x2="309.8" y2="1429.6" stroke="#000" stroke-width="2.2"/>
<line x1="696.3" y1="1359.2" x2="651" y2="1628.4" stroke="#000" stroke-width="2.2"/>
<line x1="1076.4" y1="1480" x2="1130.4" y2="1631" stroke="#000" stroke-width="2.2"/>
<line x1="1432.7" y1="1375.9" x2="1508.6" y2="1591.9" stroke="#000" stroke-width="2.2"/>
<line x1="1817.8" y1="1350.2" x2="1842" y2="1328.8" stroke="#000" stroke-width="2.2"/>
<line x1="567.3" y1="1128.2" x2="605.4" y2="1107.4" stroke="#000" stroke-width="2.2"/>
<line x1="1180.6" y1="1283.7" x2="1255" y2="1318.4" stroke="#000" stroke-width="2.2"/>
<text x="312.4" y="1082.8" font-size="39.3" fill="#000">(TS1)</text>
<text x="462.2" y="1138.4" font-size="39.3" fill="#000">(TS6)</text>
<text x="683.6" y="1268.6" font-size="39.3" fill="#000">(TS2)</text>
<text x="1014.6" y="1405.3" font-size="39.3" fill="#000">(TS3)</text>
<text x="1269.6" y="1336.0" font-size="39.3" fill="#000">(TS7)</text>
<text x="1374.3" y="1261.0" font-size="39.3" fill="#000">(TS4)</text>
<text x="1713.1" y="1362.7" font-size="39.3" fill="#000">(TS5)</text>
<text x="472.4" y="1457.9" font-size="39.3" fill="#000">*COOH</text>
<text x="846.7" y="1731.4" font-size="39.3" fill="#000">*CO</text>
<text x="1182.6" y="1642.4" font-size="39.3" fill="#000">*COH</text>
<text x="1520.5" y="1578.3" font-size="39.3" fill="#000">*C+*OH</text>
<text x="1923.5" y="1787.7" font-size="39.3" fill="#000">*C</text>
<text x="149.2" y="1389.2" font-size="39.3">*CO<tspan font-size="28" dy="11">2</tspan></text>
<text x="1883.5" y="1054.2" font-size="38">Fe<tspan font-size="28.5" dy="10">2</tspan><tspan dy="-10">N</tspan></text>
<text x="1971.5" y="1109.5" font-size="31.2" text-anchor="end" word-spacing="-3">CO<tspan font-size="23" dy="8">2</tspan><tspan dy="-8"> + H atoms</tspan></text>
<line x1="170" y1="1761" x2="226.3" y2="1761" stroke="#5a86c0" stroke-width="4"/>
<line x1="170" y1="1812.5" x2="226.3" y2="1812.5" stroke="#c96a6a" stroke-width="4"/>
<text x="243.8" y="1773.7" font-size="39" fill="#000">Without K</text>
<text x="243.8" y="1826.0" font-size="39" fill="#000">With K</text>
</svg>
</body></html>
